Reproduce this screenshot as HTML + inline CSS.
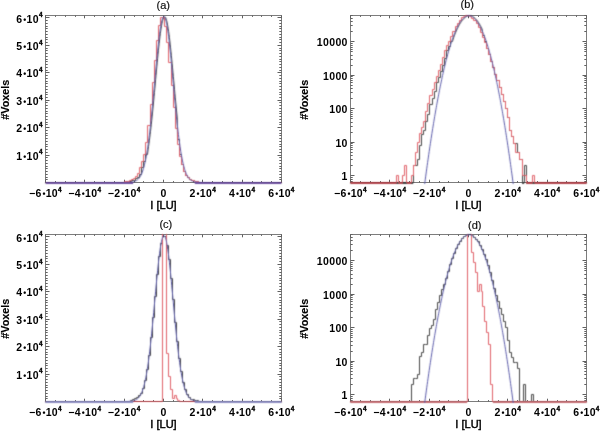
<!DOCTYPE html>
<html><head><meta charset="utf-8"><style>
html,body{margin:0;padding:0;background:#fff;}
svg{display:block;}
text{font-family:"Liberation Sans",sans-serif;fill:#000;}
.tl{font-size:10.5px;font-weight:bold;letter-spacing:0.35px;}
.bu{font-size:8.5px;letter-spacing:0.2px;}
.sup{font-size:6.4px;stroke:#000;stroke-width:0.35px;}
.tt{font-size:11px;fill:#111;stroke:#111;stroke-width:0.2px;}
.xt{font-size:11px;stroke:#000;stroke-width:0.45px;}
.yt{font-size:10.8px;font-weight:bold;stroke:#000;stroke-width:0.15px;}
</style></head><body>
<svg width="600" height="431" viewBox="0 0 600 431">
<defs><filter id="soft" x="0" y="0" width="600" height="431" filterUnits="userSpaceOnUse" color-interpolation-filters="sRGB"><feConvolveMatrix order="3" kernelMatrix="1 4 1 4 16 4 1 4 1" divisor="36" edgeMode="duplicate"/></filter></defs>
<rect width="600" height="431" fill="#fff"/>
<rect x="45.50" y="15.50" width="236.00" height="167.00" fill="none" stroke="#7c7c7c" stroke-width="1"/>
<path d="M45.50 182.50v-2.80 M45.50 15.50v2.80 M55.50 182.50v-1.40 M55.50 15.50v1.40 M65.50 182.50v-1.40 M65.50 15.50v1.40 M75.50 182.50v-1.40 M75.50 15.50v1.40 M84.50 182.50v-2.80 M84.50 15.50v2.80 M94.50 182.50v-1.40 M94.50 15.50v1.40 M104.50 182.50v-1.40 M104.50 15.50v1.40 M114.50 182.50v-1.40 M114.50 15.50v1.40 M124.50 182.50v-2.80 M124.50 15.50v2.80 M134.50 182.50v-1.40 M134.50 15.50v1.40 M143.50 182.50v-1.40 M143.50 15.50v1.40 M153.50 182.50v-1.40 M153.50 15.50v1.40 M163.50 182.50v-2.80 M163.50 15.50v2.80 M173.50 182.50v-1.40 M173.50 15.50v1.40 M183.50 182.50v-1.40 M183.50 15.50v1.40 M193.50 182.50v-1.40 M193.50 15.50v1.40 M202.50 182.50v-2.80 M202.50 15.50v2.80 M212.50 182.50v-1.40 M212.50 15.50v1.40 M222.50 182.50v-1.40 M222.50 15.50v1.40 M232.50 182.50v-1.40 M232.50 15.50v1.40 M242.50 182.50v-2.80 M242.50 15.50v2.80 M252.50 182.50v-1.40 M252.50 15.50v1.40 M261.50 182.50v-1.40 M261.50 15.50v1.40 M271.50 182.50v-1.40 M271.50 15.50v1.40 M281.50 182.50v-2.80 M281.50 15.50v2.80 M45.50 182.50h4.00 M281.50 182.50h-4.00 M45.50 179.50h2.20 M281.50 179.50h-2.20 M45.50 177.50h2.20 M281.50 177.50h-2.20 M45.50 174.50h2.20 M281.50 174.50h-2.20 M45.50 171.50h2.20 M281.50 171.50h-2.20 M45.50 168.50h2.20 M281.50 168.50h-2.20 M45.50 166.50h2.20 M281.50 166.50h-2.20 M45.50 163.50h2.20 M281.50 163.50h-2.20 M45.50 160.50h2.20 M281.50 160.50h-2.20 M45.50 157.50h2.20 M281.50 157.50h-2.20 M45.50 155.50h4.00 M281.50 155.50h-4.00 M45.50 152.50h2.20 M281.50 152.50h-2.20 M45.50 149.50h2.20 M281.50 149.50h-2.20 M45.50 146.50h2.20 M281.50 146.50h-2.20 M45.50 144.50h2.20 M281.50 144.50h-2.20 M45.50 141.50h2.20 M281.50 141.50h-2.20 M45.50 138.50h2.20 M281.50 138.50h-2.20 M45.50 135.50h2.20 M281.50 135.50h-2.20 M45.50 133.50h2.20 M281.50 133.50h-2.20 M45.50 130.50h2.20 M281.50 130.50h-2.20 M45.50 127.50h4.00 M281.50 127.50h-4.00 M45.50 124.50h2.20 M281.50 124.50h-2.20 M45.50 122.50h2.20 M281.50 122.50h-2.20 M45.50 119.50h2.20 M281.50 119.50h-2.20 M45.50 116.50h2.20 M281.50 116.50h-2.20 M45.50 113.50h2.20 M281.50 113.50h-2.20 M45.50 111.50h2.20 M281.50 111.50h-2.20 M45.50 108.50h2.20 M281.50 108.50h-2.20 M45.50 105.50h2.20 M281.50 105.50h-2.20 M45.50 102.50h2.20 M281.50 102.50h-2.20 M45.50 100.50h4.00 M281.50 100.50h-4.00 M45.50 97.50h2.20 M281.50 97.50h-2.20 M45.50 94.50h2.20 M281.50 94.50h-2.20 M45.50 92.50h2.20 M281.50 92.50h-2.20 M45.50 89.50h2.20 M281.50 89.50h-2.20 M45.50 86.50h2.20 M281.50 86.50h-2.20 M45.50 83.50h2.20 M281.50 83.50h-2.20 M45.50 81.50h2.20 M281.50 81.50h-2.20 M45.50 78.50h2.20 M281.50 78.50h-2.20 M45.50 75.50h2.20 M281.50 75.50h-2.20 M45.50 72.50h4.00 M281.50 72.50h-4.00 M45.50 70.50h2.20 M281.50 70.50h-2.20 M45.50 67.50h2.20 M281.50 67.50h-2.20 M45.50 64.50h2.20 M281.50 64.50h-2.20 M45.50 61.50h2.20 M281.50 61.50h-2.20 M45.50 59.50h2.20 M281.50 59.50h-2.20 M45.50 56.50h2.20 M281.50 56.50h-2.20 M45.50 53.50h2.20 M281.50 53.50h-2.20 M45.50 50.50h2.20 M281.50 50.50h-2.20 M45.50 48.50h2.20 M281.50 48.50h-2.20 M45.50 45.50h4.00 M281.50 45.50h-4.00 M45.50 42.50h2.20 M281.50 42.50h-2.20 M45.50 39.50h2.20 M281.50 39.50h-2.20 M45.50 37.50h2.20 M281.50 37.50h-2.20 M45.50 34.50h2.20 M281.50 34.50h-2.20 M45.50 31.50h2.20 M281.50 31.50h-2.20 M45.50 28.50h2.20 M281.50 28.50h-2.20 M45.50 26.50h2.20 M281.50 26.50h-2.20 M45.50 23.50h2.20 M281.50 23.50h-2.20 M45.50 20.50h2.20 M281.50 20.50h-2.20 M45.50 17.50h4.00 M281.50 17.50h-4.00" stroke="#606060" stroke-width="1" fill="none"/>
<rect x="350.50" y="15.50" width="236.00" height="167.00" fill="none" stroke="#7c7c7c" stroke-width="1"/>
<path d="M350.50 182.50v-2.80 M350.50 15.50v2.80 M360.50 182.50v-1.40 M360.50 15.50v1.40 M370.50 182.50v-1.40 M370.50 15.50v1.40 M380.50 182.50v-1.40 M380.50 15.50v1.40 M389.50 182.50v-2.80 M389.50 15.50v2.80 M399.50 182.50v-1.40 M399.50 15.50v1.40 M409.50 182.50v-1.40 M409.50 15.50v1.40 M419.50 182.50v-1.40 M419.50 15.50v1.40 M429.50 182.50v-2.80 M429.50 15.50v2.80 M439.50 182.50v-1.40 M439.50 15.50v1.40 M448.50 182.50v-1.40 M448.50 15.50v1.40 M458.50 182.50v-1.40 M458.50 15.50v1.40 M468.50 182.50v-2.80 M468.50 15.50v2.80 M478.50 182.50v-1.40 M478.50 15.50v1.40 M488.50 182.50v-1.40 M488.50 15.50v1.40 M498.50 182.50v-1.40 M498.50 15.50v1.40 M507.50 182.50v-2.80 M507.50 15.50v2.80 M517.50 182.50v-1.40 M517.50 15.50v1.40 M527.50 182.50v-1.40 M527.50 15.50v1.40 M537.50 182.50v-1.40 M537.50 15.50v1.40 M547.50 182.50v-2.80 M547.50 15.50v2.80 M557.50 182.50v-1.40 M557.50 15.50v1.40 M566.50 182.50v-1.40 M566.50 15.50v1.40 M576.50 182.50v-1.40 M576.50 15.50v1.40 M586.50 182.50v-2.80 M586.50 15.50v2.80 M350.50 181.50h2.20 M586.50 181.50h-2.20 M350.50 179.50h2.20 M586.50 179.50h-2.20 M350.50 177.50h2.20 M586.50 177.50h-2.20 M350.50 175.50h4.00 M586.50 175.50h-4.00 M350.50 165.50h2.20 M586.50 165.50h-2.20 M350.50 159.50h2.20 M586.50 159.50h-2.20 M350.50 155.50h2.20 M586.50 155.50h-2.20 M350.50 152.50h2.20 M586.50 152.50h-2.20 M350.50 149.50h2.20 M586.50 149.50h-2.20 M350.50 147.50h2.20 M586.50 147.50h-2.20 M350.50 145.50h2.20 M586.50 145.50h-2.20 M350.50 143.50h2.20 M586.50 143.50h-2.20 M350.50 142.50h4.00 M586.50 142.50h-4.00 M350.50 132.50h2.20 M586.50 132.50h-2.20 M350.50 126.50h2.20 M586.50 126.50h-2.20 M350.50 122.50h2.20 M586.50 122.50h-2.20 M350.50 118.50h2.20 M586.50 118.50h-2.20 M350.50 116.50h2.20 M586.50 116.50h-2.20 M350.50 114.50h2.20 M586.50 114.50h-2.20 M350.50 112.50h2.20 M586.50 112.50h-2.20 M350.50 110.50h2.20 M586.50 110.50h-2.20 M350.50 108.50h4.00 M586.50 108.50h-4.00 M350.50 98.50h2.20 M586.50 98.50h-2.20 M350.50 92.50h2.20 M586.50 92.50h-2.20 M350.50 88.50h2.20 M586.50 88.50h-2.20 M350.50 85.50h2.20 M586.50 85.50h-2.20 M350.50 82.50h2.20 M586.50 82.50h-2.20 M350.50 80.50h2.20 M586.50 80.50h-2.20 M350.50 78.50h2.20 M586.50 78.50h-2.20 M350.50 76.50h2.20 M586.50 76.50h-2.20 M350.50 75.50h4.00 M586.50 75.50h-4.00 M350.50 65.50h2.20 M586.50 65.50h-2.20 M350.50 59.50h2.20 M586.50 59.50h-2.20 M350.50 55.50h2.20 M586.50 55.50h-2.20 M350.50 51.50h2.20 M586.50 51.50h-2.20 M350.50 49.50h2.20 M586.50 49.50h-2.20 M350.50 47.50h2.20 M586.50 47.50h-2.20 M350.50 45.50h2.20 M586.50 45.50h-2.20 M350.50 43.50h2.20 M586.50 43.50h-2.20 M350.50 41.50h4.00 M586.50 41.50h-4.00 M350.50 31.50h2.20 M586.50 31.50h-2.20 M350.50 25.50h2.20 M586.50 25.50h-2.20 M350.50 21.50h2.20 M586.50 21.50h-2.20 M350.50 18.50h2.20 M586.50 18.50h-2.20 M350.50 15.50h2.20 M586.50 15.50h-2.20" stroke="#606060" stroke-width="1" fill="none"/>
<rect x="45.50" y="234.50" width="236.00" height="167.00" fill="none" stroke="#7c7c7c" stroke-width="1"/>
<path d="M45.50 401.50v-2.80 M45.50 234.50v2.80 M55.50 401.50v-1.40 M55.50 234.50v1.40 M65.50 401.50v-1.40 M65.50 234.50v1.40 M75.50 401.50v-1.40 M75.50 234.50v1.40 M84.50 401.50v-2.80 M84.50 234.50v2.80 M94.50 401.50v-1.40 M94.50 234.50v1.40 M104.50 401.50v-1.40 M104.50 234.50v1.40 M114.50 401.50v-1.40 M114.50 234.50v1.40 M124.50 401.50v-2.80 M124.50 234.50v2.80 M134.50 401.50v-1.40 M134.50 234.50v1.40 M143.50 401.50v-1.40 M143.50 234.50v1.40 M153.50 401.50v-1.40 M153.50 234.50v1.40 M163.50 401.50v-2.80 M163.50 234.50v2.80 M173.50 401.50v-1.40 M173.50 234.50v1.40 M183.50 401.50v-1.40 M183.50 234.50v1.40 M193.50 401.50v-1.40 M193.50 234.50v1.40 M202.50 401.50v-2.80 M202.50 234.50v2.80 M212.50 401.50v-1.40 M212.50 234.50v1.40 M222.50 401.50v-1.40 M222.50 234.50v1.40 M232.50 401.50v-1.40 M232.50 234.50v1.40 M242.50 401.50v-2.80 M242.50 234.50v2.80 M252.50 401.50v-1.40 M252.50 234.50v1.40 M261.50 401.50v-1.40 M261.50 234.50v1.40 M271.50 401.50v-1.40 M271.50 234.50v1.40 M281.50 401.50v-2.80 M281.50 234.50v2.80 M45.50 401.50h4.00 M281.50 401.50h-4.00 M45.50 398.50h2.20 M281.50 398.50h-2.20 M45.50 396.50h2.20 M281.50 396.50h-2.20 M45.50 393.50h2.20 M281.50 393.50h-2.20 M45.50 390.50h2.20 M281.50 390.50h-2.20 M45.50 387.50h2.20 M281.50 387.50h-2.20 M45.50 385.50h2.20 M281.50 385.50h-2.20 M45.50 382.50h2.20 M281.50 382.50h-2.20 M45.50 379.50h2.20 M281.50 379.50h-2.20 M45.50 376.50h2.20 M281.50 376.50h-2.20 M45.50 374.50h4.00 M281.50 374.50h-4.00 M45.50 371.50h2.20 M281.50 371.50h-2.20 M45.50 368.50h2.20 M281.50 368.50h-2.20 M45.50 365.50h2.20 M281.50 365.50h-2.20 M45.50 363.50h2.20 M281.50 363.50h-2.20 M45.50 360.50h2.20 M281.50 360.50h-2.20 M45.50 357.50h2.20 M281.50 357.50h-2.20 M45.50 354.50h2.20 M281.50 354.50h-2.20 M45.50 352.50h2.20 M281.50 352.50h-2.20 M45.50 349.50h2.20 M281.50 349.50h-2.20 M45.50 346.50h4.00 M281.50 346.50h-4.00 M45.50 343.50h2.20 M281.50 343.50h-2.20 M45.50 341.50h2.20 M281.50 341.50h-2.20 M45.50 338.50h2.20 M281.50 338.50h-2.20 M45.50 335.50h2.20 M281.50 335.50h-2.20 M45.50 332.50h2.20 M281.50 332.50h-2.20 M45.50 330.50h2.20 M281.50 330.50h-2.20 M45.50 327.50h2.20 M281.50 327.50h-2.20 M45.50 324.50h2.20 M281.50 324.50h-2.20 M45.50 321.50h2.20 M281.50 321.50h-2.20 M45.50 319.50h4.00 M281.50 319.50h-4.00 M45.50 316.50h2.20 M281.50 316.50h-2.20 M45.50 313.50h2.20 M281.50 313.50h-2.20 M45.50 311.50h2.20 M281.50 311.50h-2.20 M45.50 308.50h2.20 M281.50 308.50h-2.20 M45.50 305.50h2.20 M281.50 305.50h-2.20 M45.50 302.50h2.20 M281.50 302.50h-2.20 M45.50 300.50h2.20 M281.50 300.50h-2.20 M45.50 297.50h2.20 M281.50 297.50h-2.20 M45.50 294.50h2.20 M281.50 294.50h-2.20 M45.50 291.50h4.00 M281.50 291.50h-4.00 M45.50 289.50h2.20 M281.50 289.50h-2.20 M45.50 286.50h2.20 M281.50 286.50h-2.20 M45.50 283.50h2.20 M281.50 283.50h-2.20 M45.50 280.50h2.20 M281.50 280.50h-2.20 M45.50 278.50h2.20 M281.50 278.50h-2.20 M45.50 275.50h2.20 M281.50 275.50h-2.20 M45.50 272.50h2.20 M281.50 272.50h-2.20 M45.50 269.50h2.20 M281.50 269.50h-2.20 M45.50 267.50h2.20 M281.50 267.50h-2.20 M45.50 264.50h4.00 M281.50 264.50h-4.00 M45.50 261.50h2.20 M281.50 261.50h-2.20 M45.50 258.50h2.20 M281.50 258.50h-2.20 M45.50 256.50h2.20 M281.50 256.50h-2.20 M45.50 253.50h2.20 M281.50 253.50h-2.20 M45.50 250.50h2.20 M281.50 250.50h-2.20 M45.50 247.50h2.20 M281.50 247.50h-2.20 M45.50 245.50h2.20 M281.50 245.50h-2.20 M45.50 242.50h2.20 M281.50 242.50h-2.20 M45.50 239.50h2.20 M281.50 239.50h-2.20 M45.50 236.50h4.00 M281.50 236.50h-4.00" stroke="#606060" stroke-width="1" fill="none"/>
<rect x="350.50" y="234.50" width="236.00" height="167.00" fill="none" stroke="#7c7c7c" stroke-width="1"/>
<path d="M350.50 401.50v-2.80 M350.50 234.50v2.80 M360.50 401.50v-1.40 M360.50 234.50v1.40 M370.50 401.50v-1.40 M370.50 234.50v1.40 M380.50 401.50v-1.40 M380.50 234.50v1.40 M389.50 401.50v-2.80 M389.50 234.50v2.80 M399.50 401.50v-1.40 M399.50 234.50v1.40 M409.50 401.50v-1.40 M409.50 234.50v1.40 M419.50 401.50v-1.40 M419.50 234.50v1.40 M429.50 401.50v-2.80 M429.50 234.50v2.80 M439.50 401.50v-1.40 M439.50 234.50v1.40 M448.50 401.50v-1.40 M448.50 234.50v1.40 M458.50 401.50v-1.40 M458.50 234.50v1.40 M468.50 401.50v-2.80 M468.50 234.50v2.80 M478.50 401.50v-1.40 M478.50 234.50v1.40 M488.50 401.50v-1.40 M488.50 234.50v1.40 M498.50 401.50v-1.40 M498.50 234.50v1.40 M507.50 401.50v-2.80 M507.50 234.50v2.80 M517.50 401.50v-1.40 M517.50 234.50v1.40 M527.50 401.50v-1.40 M527.50 234.50v1.40 M537.50 401.50v-1.40 M537.50 234.50v1.40 M547.50 401.50v-2.80 M547.50 234.50v2.80 M557.50 401.50v-1.40 M557.50 234.50v1.40 M566.50 401.50v-1.40 M566.50 234.50v1.40 M576.50 401.50v-1.40 M576.50 234.50v1.40 M586.50 401.50v-2.80 M586.50 234.50v2.80 M350.50 400.50h2.20 M586.50 400.50h-2.20 M350.50 398.50h2.20 M586.50 398.50h-2.20 M350.50 396.50h2.20 M586.50 396.50h-2.20 M350.50 394.50h4.00 M586.50 394.50h-4.00 M350.50 384.50h2.20 M586.50 384.50h-2.20 M350.50 378.50h2.20 M586.50 378.50h-2.20 M350.50 374.50h2.20 M586.50 374.50h-2.20 M350.50 371.50h2.20 M586.50 371.50h-2.20 M350.50 368.50h2.20 M586.50 368.50h-2.20 M350.50 366.50h2.20 M586.50 366.50h-2.20 M350.50 364.50h2.20 M586.50 364.50h-2.20 M350.50 362.50h2.20 M586.50 362.50h-2.20 M350.50 361.50h4.00 M586.50 361.50h-4.00 M350.50 351.50h2.20 M586.50 351.50h-2.20 M350.50 345.50h2.20 M586.50 345.50h-2.20 M350.50 341.50h2.20 M586.50 341.50h-2.20 M350.50 337.50h2.20 M586.50 337.50h-2.20 M350.50 335.50h2.20 M586.50 335.50h-2.20 M350.50 333.50h2.20 M586.50 333.50h-2.20 M350.50 331.50h2.20 M586.50 331.50h-2.20 M350.50 329.50h2.20 M586.50 329.50h-2.20 M350.50 327.50h4.00 M586.50 327.50h-4.00 M350.50 317.50h2.20 M586.50 317.50h-2.20 M350.50 311.50h2.20 M586.50 311.50h-2.20 M350.50 307.50h2.20 M586.50 307.50h-2.20 M350.50 304.50h2.20 M586.50 304.50h-2.20 M350.50 301.50h2.20 M586.50 301.50h-2.20 M350.50 299.50h2.20 M586.50 299.50h-2.20 M350.50 297.50h2.20 M586.50 297.50h-2.20 M350.50 295.50h2.20 M586.50 295.50h-2.20 M350.50 294.50h4.00 M586.50 294.50h-4.00 M350.50 284.50h2.20 M586.50 284.50h-2.20 M350.50 278.50h2.20 M586.50 278.50h-2.20 M350.50 274.50h2.20 M586.50 274.50h-2.20 M350.50 270.50h2.20 M586.50 270.50h-2.20 M350.50 268.50h2.20 M586.50 268.50h-2.20 M350.50 266.50h2.20 M586.50 266.50h-2.20 M350.50 264.50h2.20 M586.50 264.50h-2.20 M350.50 262.50h2.20 M586.50 262.50h-2.20 M350.50 260.50h4.00 M586.50 260.50h-4.00 M350.50 250.50h2.20 M586.50 250.50h-2.20 M350.50 244.50h2.20 M586.50 244.50h-2.20 M350.50 240.50h2.20 M586.50 240.50h-2.20 M350.50 237.50h2.20 M586.50 237.50h-2.20 M350.50 234.50h2.20 M586.50 234.50h-2.20" stroke="#606060" stroke-width="1" fill="none"/>
<g filter="url(#soft)">
<clipPath id="clipa"><rect x="45.50" y="15.50" width="236.00" height="168.50"/></clipPath>
<g clip-path="url(#clipa)" fill="none" stroke-width="1">
<path d="M41.50 182.50 L43.50 182.50 L43.50 182.50 L45.50 182.50 L45.50 182.50 L47.50 182.50 L47.50 182.50 L49.50 182.50 L49.50 182.50 L51.50 182.50 L51.50 182.50 L53.50 182.50 L53.50 182.50 L55.50 182.50 L55.50 182.50 L57.50 182.50 L57.50 182.50 L60.50 182.50 L60.50 182.50 L62.50 182.50 L62.50 182.50 L64.50 182.50 L64.50 182.50 L66.50 182.50 L66.50 182.50 L68.50 182.50 L68.50 182.50 L70.50 182.50 L70.50 182.50 L72.50 182.50 L72.50 182.50 L74.50 182.50 L74.50 182.50 L76.50 182.50 L76.50 182.50 L78.50 182.50 L78.50 182.50 L80.50 182.50 L80.50 182.50 L83.50 182.50 L83.50 182.50 L85.50 182.50 L85.50 182.50 L87.50 182.50 L87.50 182.50 L89.50 182.50 L89.50 182.50 L91.50 182.50 L91.50 182.50 L93.50 182.50 L93.50 182.50 L95.50 182.50 L95.50 182.50 L97.50 182.50 L97.50 182.50 L99.50 182.50 L99.50 182.50 L101.50 182.50 L101.50 182.50 L103.50 182.50 L103.50 182.50 L106.50 182.50 L106.50 182.50 L108.50 182.50 L108.50 182.50 L110.50 182.50 L110.50 182.50 L112.50 182.50 L112.50 182.50 L114.50 182.50 L114.50 182.50 L116.50 182.50 L116.50 182.50 L118.50 182.50 L118.50 182.50 L120.50 182.50 L120.50 182.50 L122.50 182.50 L122.50 182.50 L124.50 182.50 L124.50 182.50 L127.50 182.50 L127.50 181.50 L129.50 181.50 L129.50 181.50 L131.50 181.50 L131.50 180.50 L133.50 180.50 L133.50 180.50 L135.50 180.50 L135.50 178.50 L137.50 178.50 L137.50 177.50 L139.50 177.50 L139.50 174.50 L141.50 174.50 L141.50 167.50 L143.50 167.50 L143.50 161.50 L145.50 161.50 L145.50 154.50 L147.50 154.50 L148.17 149.05 L148.56 146.42 L148.96 143.66 L149.35 140.77 L149.74 137.74 L150.14 134.57 L150.53 131.28 L150.92 127.86 L151.32 124.32 L151.71 120.67 L152.10 116.90 L152.50 113.03 L152.89 109.07 L153.28 105.02 L153.68 100.90 L154.07 96.72 L154.46 92.49 L154.86 88.22 L155.25 83.92 L155.64 79.62 L156.04 75.33 L156.43 71.07 L156.82 66.84 L157.22 62.68 L157.61 58.59 L158.00 54.59 L158.40 50.71 L158.79 46.96 L159.18 43.35 L159.58 39.91 L159.97 36.65 L160.36 33.59 L160.76 30.74 L161.15 28.12 L161.54 25.74 L161.94 23.62 L162.33 21.76 L162.72 20.17 L163.12 18.87 L163.51 17.86 L163.90 17.14 L164.30 16.72 L164.69 16.61 L165.08 16.80 L165.48 17.29 L165.87 18.08 L166.26 19.17 L166.66 20.54 L167.05 22.20 L167.44 24.12 L167.84 26.31 L168.23 28.75 L168.62 31.43 L169.02 34.34 L169.41 37.45 L169.80 40.76 L170.20 44.24 L170.59 47.88 L170.98 51.67 L171.38 55.58 L171.77 59.60 L172.16 63.71 L172.56 67.89 L172.95 72.13 L173.34 76.41 L173.74 80.70 L174.13 85.00 L174.52 89.29 L174.92 93.55 L175.31 97.77 L175.70 101.94 L176.10 106.04 L176.49 110.07 L176.88 114.01 L177.28 117.85 L177.50 139.50 L179.50 139.50 L179.50 154.50 L181.50 154.50 L181.50 164.50 L183.50 164.50 L183.50 171.50 L185.50 171.50 L185.50 175.50 L187.50 175.50 L187.50 177.50 L189.50 177.50 L189.50 179.50 L191.50 179.50 L191.50 180.50 L194.50 180.50 L194.50 181.50 L196.50 181.50 L196.50 181.50 L198.50 181.50 L198.50 182.50 L200.50 182.50 L200.50 182.50 L202.50 182.50 L202.50 182.50 L204.50 182.50 L204.50 182.50 L206.50 182.50 L206.50 182.50 L208.50 182.50 L208.50 182.50 L210.50 182.50 L210.50 182.50 L212.50 182.50 L212.50 182.50 L214.50 182.50 L214.50 182.50 L217.50 182.50 L217.50 182.50 L219.50 182.50 L219.50 182.50 L221.50 182.50 L221.50 182.50 L223.50 182.50 L223.50 182.50 L225.50 182.50 L225.50 182.50 L227.50 182.50 L227.50 182.50 L229.50 182.50 L229.50 182.50 L231.50 182.50 L231.50 182.50 L233.50 182.50 L233.50 182.50 L235.50 182.50 L235.50 182.50 L238.50 182.50 L238.50 182.50 L240.50 182.50 L240.50 182.50 L242.50 182.50 L242.50 182.50 L244.50 182.50 L244.50 182.50 L246.50 182.50 L246.50 182.50 L248.50 182.50 L248.50 182.50 L250.50 182.50 L250.50 182.50 L252.50 182.50 L252.50 182.50 L254.50 182.50 L254.50 182.50 L256.50 182.50 L256.50 182.50 L258.50 182.50 L258.50 182.50 L261.50 182.50 L261.50 182.50 L263.50 182.50 L263.50 182.50 L265.50 182.50 L265.50 182.50 L267.50 182.50 L267.50 182.50 L269.50 182.50 L269.50 182.50 L271.50 182.50 L271.50 182.50 L273.50 182.50 L273.50 182.50 L275.50 182.50 L275.50 182.50 L277.50 182.50 L277.50 182.50 L279.50 182.50 L279.50 182.50 L282.50 182.50 L282.50 182.50 L284.50 182.50 L284.50 182.50 L286.50 182.50" stroke="#444444"/>
<path d="M45.50 183.00H129.12 M198.24 183.00H281.50" stroke="#444444" stroke-width="2"/>
<path d="M41.50 182.50 L43.50 182.50 L43.50 182.50 L45.50 182.50 L45.50 182.50 L47.50 182.50 L47.50 182.50 L49.50 182.50 L49.50 182.50 L51.50 182.50 L51.50 182.50 L53.50 182.50 L53.50 182.50 L55.50 182.50 L55.50 182.50 L57.50 182.50 L57.50 182.50 L60.50 182.50 L60.50 182.50 L62.50 182.50 L62.50 182.50 L64.50 182.50 L64.50 182.50 L66.50 182.50 L66.50 182.50 L68.50 182.50 L68.50 182.50 L70.50 182.50 L70.50 182.50 L72.50 182.50 L72.50 182.50 L74.50 182.50 L74.50 182.50 L76.50 182.50 L76.50 182.50 L78.50 182.50 L78.50 182.50 L80.50 182.50 L80.50 182.50 L83.50 182.50 L83.50 182.50 L85.50 182.50 L85.50 182.50 L87.50 182.50 L87.50 182.50 L89.50 182.50 L89.50 182.50 L91.50 182.50 L91.50 182.50 L93.50 182.50 L93.50 182.50 L95.50 182.50 L95.50 182.50 L97.50 182.50 L97.50 182.50 L99.50 182.50 L99.50 182.50 L101.50 182.50 L101.50 182.50 L103.50 182.50 L103.50 182.50 L106.50 182.50 L106.50 182.50 L108.50 182.50 L108.50 182.50 L110.50 182.50 L110.50 182.50 L112.50 182.50 L112.50 182.50 L114.50 182.50 L114.50 182.50 L116.50 182.50 L116.50 182.50 L118.50 182.50 L118.50 182.50 L120.50 182.50 L120.50 182.50 L122.50 182.50 L122.50 182.50 L124.50 182.50 L124.50 181.50 L127.50 181.50 L127.50 181.50 L129.50 181.50 L129.50 180.50 L131.50 180.50 L131.50 179.50 L133.50 179.50 L133.50 178.50 L135.50 178.50 L135.50 176.50 L137.50 176.50 L137.50 173.50 L139.50 173.50 L139.50 167.50 L141.50 167.50 L141.50 161.50 L143.50 161.50 L143.50 154.50 L145.50 154.50 L145.50 142.50 L147.50 142.50 L147.50 125.50 L150.50 125.50 L150.50 104.50 L152.50 104.50 L152.50 82.50 L154.50 82.50 L154.50 60.50 L156.50 60.50 L156.50 40.50 L158.50 40.50 L158.50 25.50 L160.50 25.50 L160.50 17.50 L162.50 17.50 L162.50 17.50 L164.50 17.50 L164.50 26.50 L166.50 26.50 L166.50 42.50 L168.50 42.50 L168.50 62.50 L171.50 62.50 L171.50 85.50 L173.50 85.50 L173.50 107.50 L175.50 107.50 L175.50 128.50 L177.50 128.50 L177.50 144.50 L179.50 144.50 L179.50 156.50 L181.50 156.50 L181.50 164.50 L183.50 164.50 L183.50 171.50 L185.50 171.50 L185.50 175.50 L187.50 175.50 L187.50 177.50 L189.50 177.50 L189.50 179.50 L191.50 179.50 L191.50 180.50 L194.50 180.50 L194.50 181.50 L196.50 181.50 L196.50 181.50 L198.50 181.50 L198.50 182.50 L200.50 182.50 L200.50 182.50 L202.50 182.50 L202.50 182.50 L204.50 182.50 L204.50 182.50 L206.50 182.50 L206.50 182.50 L208.50 182.50 L208.50 182.50 L210.50 182.50 L210.50 182.50 L212.50 182.50 L212.50 182.50 L214.50 182.50 L214.50 182.50 L217.50 182.50 L217.50 182.50 L219.50 182.50 L219.50 182.50 L221.50 182.50 L221.50 182.50 L223.50 182.50 L223.50 182.50 L225.50 182.50 L225.50 182.50 L227.50 182.50 L227.50 182.50 L229.50 182.50 L229.50 182.50 L231.50 182.50 L231.50 182.50 L233.50 182.50 L233.50 182.50 L235.50 182.50 L235.50 182.50 L238.50 182.50 L238.50 182.50 L240.50 182.50 L240.50 182.50 L242.50 182.50 L242.50 182.50 L244.50 182.50 L244.50 182.50 L246.50 182.50 L246.50 182.50 L248.50 182.50 L248.50 182.50 L250.50 182.50 L250.50 182.50 L252.50 182.50 L252.50 182.50 L254.50 182.50 L254.50 182.50 L256.50 182.50 L256.50 182.50 L258.50 182.50 L258.50 182.50 L261.50 182.50 L261.50 182.50 L263.50 182.50 L263.50 182.50 L265.50 182.50 L265.50 182.50 L267.50 182.50 L267.50 182.50 L269.50 182.50 L269.50 182.50 L271.50 182.50 L271.50 182.50 L273.50 182.50 L273.50 182.50 L275.50 182.50 L275.50 182.50 L277.50 182.50 L277.50 182.50 L279.50 182.50 L279.50 182.50 L282.50 182.50 L282.50 182.50 L284.50 182.50 L284.50 182.50 L286.50 182.50" stroke="#e06068"/>
<path d="M45.50 182.50 L45.89 182.50 L46.29 182.50 L46.68 182.50 L47.07 182.50 L47.47 182.50 L47.86 182.50 L48.25 182.50 L48.65 182.50 L49.04 182.50 L49.43 182.50 L49.83 182.50 L50.22 182.50 L50.61 182.50 L51.01 182.50 L51.40 182.50 L51.79 182.50 L52.19 182.50 L52.58 182.50 L52.97 182.50 L53.37 182.50 L53.76 182.50 L54.15 182.50 L54.55 182.50 L54.94 182.50 L55.33 182.50 L55.73 182.50 L56.12 182.50 L56.51 182.50 L56.91 182.50 L57.30 182.50 L57.69 182.50 L58.09 182.50 L58.48 182.50 L58.87 182.50 L59.27 182.50 L59.66 182.50 L60.05 182.50 L60.45 182.50 L60.84 182.50 L61.23 182.50 L61.63 182.50 L62.02 182.50 L62.41 182.50 L62.81 182.50 L63.20 182.50 L63.59 182.50 L63.99 182.50 L64.38 182.50 L64.77 182.50 L65.17 182.50 L65.56 182.50 L65.95 182.50 L66.35 182.50 L66.74 182.50 L67.13 182.50 L67.53 182.50 L67.92 182.50 L68.31 182.50 L68.71 182.50 L69.10 182.50 L69.49 182.50 L69.89 182.50 L70.28 182.50 L70.67 182.50 L71.07 182.50 L71.46 182.50 L71.85 182.50 L72.25 182.50 L72.64 182.50 L73.03 182.50 L73.43 182.50 L73.82 182.50 L74.21 182.50 L74.61 182.50 L75.00 182.50 L75.39 182.50 L75.79 182.50 L76.18 182.50 L76.57 182.50 L76.97 182.50 L77.36 182.50 L77.75 182.50 L78.15 182.50 L78.54 182.50 L78.93 182.50 L79.33 182.50 L79.72 182.50 L80.11 182.50 L80.51 182.50 L80.90 182.50 L81.29 182.50 L81.69 182.50 L82.08 182.50 L82.47 182.50 L82.87 182.50 L83.26 182.50 L83.65 182.50 L84.05 182.50 L84.44 182.50 L84.83 182.50 L85.23 182.50 L85.62 182.50 L86.01 182.50 L86.41 182.50 L86.80 182.50 L87.19 182.50 L87.59 182.50 L87.98 182.50 L88.37 182.50 L88.77 182.50 L89.16 182.50 L89.55 182.50 L89.95 182.50 L90.34 182.50 L90.73 182.50 L91.13 182.50 L91.52 182.50 L91.91 182.50 L92.31 182.50 L92.70 182.50 L93.09 182.50 L93.49 182.50 L93.88 182.50 L94.27 182.50 L94.67 182.50 L95.06 182.50 L95.45 182.50 L95.85 182.50 L96.24 182.50 L96.63 182.50 L97.03 182.50 L97.42 182.50 L97.81 182.50 L98.21 182.50 L98.60 182.50 L98.99 182.50 L99.39 182.50 L99.78 182.50 L100.17 182.50 L100.57 182.50 L100.96 182.50 L101.35 182.50 L101.75 182.50 L102.14 182.50 L102.53 182.50 L102.93 182.50 L103.32 182.50 L103.71 182.50 L104.11 182.50 L104.50 182.50 L104.89 182.50 L105.29 182.50 L105.68 182.50 L106.07 182.50 L106.47 182.50 L106.86 182.50 L107.25 182.50 L107.65 182.50 L108.04 182.50 L108.43 182.50 L108.83 182.50 L109.22 182.50 L109.61 182.50 L110.01 182.50 L110.40 182.50 L110.79 182.50 L111.19 182.50 L111.58 182.50 L111.97 182.50 L112.37 182.50 L112.76 182.50 L113.15 182.50 L113.55 182.50 L113.94 182.50 L114.33 182.50 L114.73 182.50 L115.12 182.50 L115.51 182.50 L115.91 182.50 L116.30 182.50 L116.69 182.50 L117.09 182.50 L117.48 182.50 L117.87 182.50 L118.27 182.50 L118.66 182.50 L119.05 182.50 L119.45 182.50 L119.84 182.50 L120.23 182.50 L120.63 182.50 L121.02 182.50 L121.41 182.50 L121.81 182.50 L122.20 182.49 L122.59 182.49 L122.99 182.49 L123.38 182.49 L123.77 182.49 L124.17 182.49 L124.56 182.48 L124.95 182.48 L125.35 182.47 L125.74 182.47 L126.13 182.46 L126.53 182.46 L126.92 182.45 L127.31 182.44 L127.71 182.43 L128.10 182.42 L128.49 182.40 L128.89 182.38 L129.28 182.36 L129.67 182.34 L130.07 182.31 L130.46 182.28 L130.85 182.24 L131.25 182.20 L131.64 182.15 L132.03 182.09 L132.43 182.03 L132.82 181.96 L133.21 181.87 L133.61 181.78 L134.00 181.67 L134.39 181.54 L134.79 181.41 L135.18 181.25 L135.57 181.07 L135.97 180.87 L136.36 180.65 L136.75 180.39 L137.15 180.11 L137.54 179.80 L137.93 179.45 L138.33 179.06 L138.72 178.63 L139.11 178.15 L139.51 177.62 L139.90 177.04 L140.29 176.40 L140.69 175.70 L141.08 174.93 L141.47 174.09 L141.87 173.18 L142.26 172.18 L142.65 171.10 L143.05 169.92 L143.44 168.65 L143.83 167.29 L144.23 165.81 L144.62 164.23 L145.01 162.53 L145.41 160.71 L145.80 158.78 L146.19 156.71 L146.59 154.52 L146.98 152.20 L147.37 149.75 L147.77 147.16 L148.16 144.43 L148.55 141.58 L148.95 138.58 L149.34 135.46 L149.73 132.20 L150.13 128.82 L150.52 125.31 L150.91 121.68 L151.31 117.95 L151.70 114.11 L152.09 110.17 L152.49 106.14 L152.88 102.04 L153.27 97.87 L153.67 93.65 L154.06 89.39 L154.45 85.11 L154.85 80.81 L155.24 76.51 L155.63 72.24 L156.03 68.00 L156.42 63.82 L156.81 59.70 L157.21 55.68 L157.60 51.77 L157.99 47.98 L158.39 44.33 L158.78 40.84 L159.17 37.53 L159.57 34.41 L159.96 31.50 L160.35 28.82 L160.75 26.37 L161.14 24.18 L161.53 22.24 L161.93 20.58 L162.32 19.20 L162.71 18.11 L163.11 17.31 L163.50 16.81 L163.89 16.61 L164.29 16.72 L164.68 17.13 L165.07 17.83 L165.47 18.84 L165.86 20.13 L166.25 21.71 L166.65 23.57 L167.04 25.69 L167.43 28.06 L167.83 30.67 L168.22 33.52 L168.61 36.57 L169.01 39.83 L169.40 43.26 L169.79 46.87 L170.19 50.62 L170.58 54.49 L170.97 58.49 L171.37 62.57 L171.76 66.74 L172.15 70.96 L172.55 75.23 L172.94 79.52 L173.33 83.82 L173.73 88.11 L174.12 92.38 L174.51 96.61 L174.91 100.80 L175.30 104.92 L175.69 108.97 L176.09 112.93 L176.48 116.81 L176.87 120.57 L177.27 124.23 L177.66 127.78 L178.05 131.20 L178.45 134.49 L178.84 137.66 L179.23 140.69 L179.63 143.59 L180.02 146.35 L180.41 148.98 L180.81 151.48 L181.20 153.84 L181.59 156.07 L181.99 158.17 L182.38 160.14 L182.77 162.00 L183.17 163.73 L183.56 165.35 L183.95 166.85 L184.35 168.25 L184.74 169.55 L185.13 170.76 L185.53 171.87 L185.92 172.89 L186.31 173.83 L186.71 174.69 L187.10 175.48 L187.49 176.20 L187.89 176.86 L188.28 177.46 L188.67 178.00 L189.07 178.49 L189.46 178.94 L189.85 179.34 L190.25 179.70 L190.64 180.02 L191.03 180.31 L191.43 180.57 L191.82 180.81 L192.21 181.01 L192.61 181.20 L193.00 181.36 L193.39 181.50 L193.79 181.63 L194.18 181.75 L194.57 181.84 L194.97 181.93 L195.36 182.01 L195.75 182.08 L196.15 182.13 L196.54 182.19 L196.93 182.23 L197.33 182.27 L197.72 182.30 L198.11 182.33 L198.51 182.36 L198.90 182.38 L199.29 182.40 L199.69 182.41 L200.08 182.43 L200.47 182.44 L200.87 182.45 L201.26 182.46 L201.65 182.46 L202.05 182.47 L202.44 182.47 L202.83 182.48 L203.23 182.48 L203.62 182.48 L204.01 182.49 L204.41 182.49 L204.80 182.49 L205.19 182.49 L205.59 182.49 L205.98 182.50 L206.37 182.50 L206.77 182.50 L207.16 182.50 L207.55 182.50 L207.95 182.50 L208.34 182.50 L208.73 182.50 L209.13 182.50 L209.52 182.50 L209.91 182.50 L210.31 182.50 L210.70 182.50 L211.09 182.50 L211.49 182.50 L211.88 182.50 L212.27 182.50 L212.67 182.50 L213.06 182.50 L213.45 182.50 L213.85 182.50 L214.24 182.50 L214.63 182.50 L215.03 182.50 L215.42 182.50 L215.81 182.50 L216.21 182.50 L216.60 182.50 L216.99 182.50 L217.39 182.50 L217.78 182.50 L218.17 182.50 L218.57 182.50 L218.96 182.50 L219.35 182.50 L219.75 182.50 L220.14 182.50 L220.53 182.50 L220.93 182.50 L221.32 182.50 L221.71 182.50 L222.11 182.50 L222.50 182.50 L222.89 182.50 L223.29 182.50 L223.68 182.50 L224.07 182.50 L224.47 182.50 L224.86 182.50 L225.25 182.50 L225.65 182.50 L226.04 182.50 L226.43 182.50 L226.83 182.50 L227.22 182.50 L227.61 182.50 L228.01 182.50 L228.40 182.50 L228.79 182.50 L229.19 182.50 L229.58 182.50 L229.97 182.50 L230.37 182.50 L230.76 182.50 L231.15 182.50 L231.55 182.50 L231.94 182.50 L232.33 182.50 L232.73 182.50 L233.12 182.50 L233.51 182.50 L233.91 182.50 L234.30 182.50 L234.69 182.50 L235.09 182.50 L235.48 182.50 L235.87 182.50 L236.27 182.50 L236.66 182.50 L237.05 182.50 L237.45 182.50 L237.84 182.50 L238.23 182.50 L238.63 182.50 L239.02 182.50 L239.41 182.50 L239.81 182.50 L240.20 182.50 L240.59 182.50 L240.99 182.50 L241.38 182.50 L241.77 182.50 L242.17 182.50 L242.56 182.50 L242.95 182.50 L243.35 182.50 L243.74 182.50 L244.13 182.50 L244.53 182.50 L244.92 182.50 L245.31 182.50 L245.71 182.50 L246.10 182.50 L246.49 182.50 L246.89 182.50 L247.28 182.50 L247.67 182.50 L248.07 182.50 L248.46 182.50 L248.85 182.50 L249.25 182.50 L249.64 182.50 L250.03 182.50 L250.43 182.50 L250.82 182.50 L251.21 182.50 L251.61 182.50 L252.00 182.50 L252.39 182.50 L252.79 182.50 L253.18 182.50 L253.57 182.50 L253.97 182.50 L254.36 182.50 L254.75 182.50 L255.15 182.50 L255.54 182.50 L255.93 182.50 L256.33 182.50 L256.72 182.50 L257.11 182.50 L257.51 182.50 L257.90 182.50 L258.29 182.50 L258.69 182.50 L259.08 182.50 L259.47 182.50 L259.87 182.50 L260.26 182.50 L260.65 182.50 L261.05 182.50 L261.44 182.50 L261.83 182.50 L262.23 182.50 L262.62 182.50 L263.01 182.50 L263.41 182.50 L263.80 182.50 L264.19 182.50 L264.59 182.50 L264.98 182.50 L265.37 182.50 L265.77 182.50 L266.16 182.50 L266.55 182.50 L266.95 182.50 L267.34 182.50 L267.73 182.50 L268.13 182.50 L268.52 182.50 L268.91 182.50 L269.31 182.50 L269.70 182.50 L270.09 182.50 L270.49 182.50 L270.88 182.50 L271.27 182.50 L271.67 182.50 L272.06 182.50 L272.45 182.50 L272.85 182.50 L273.24 182.50 L273.63 182.50 L274.03 182.50 L274.42 182.50 L274.81 182.50 L275.21 182.50 L275.60 182.50 L275.99 182.50 L276.39 182.50 L276.78 182.50 L277.17 182.50 L277.57 182.50 L277.96 182.50 L278.35 182.50 L278.75 182.50 L279.14 182.50 L279.53 182.50 L279.93 182.50 L280.32 182.50 L280.71 182.50 L281.11 182.50 L281.50 182.50" stroke="#5858a8"/>
<path d="M45.50 183.00H133.09 M194.82 183.00H281.50" stroke="#6a4c9c" stroke-width="2"/>
</g>
<clipPath id="clipb"><rect x="350.50" y="15.50" width="236.00" height="168.50"/></clipPath>
<g clip-path="url(#clipb)" fill="none" stroke-width="1">
<path d="M346.50 182.50 L348.50 182.50 L348.50 182.50 L350.50 182.50 L350.50 182.50 L352.50 182.50 L352.50 182.50 L354.50 182.50 L354.50 182.50 L356.50 182.50 L356.50 182.50 L358.50 182.50 L358.50 182.50 L360.50 182.50 L360.50 182.50 L362.50 182.50 L362.50 182.50 L365.50 182.50 L365.50 182.50 L367.50 182.50 L367.50 182.50 L369.50 182.50 L369.50 182.50 L371.50 182.50 L371.50 182.50 L373.50 182.50 L373.50 182.50 L375.50 182.50 L375.50 182.50 L377.50 182.50 L377.50 182.50 L379.50 182.50 L379.50 182.50 L381.50 182.50 L381.50 182.50 L383.50 182.50 L383.50 182.50 L385.50 182.50 L385.50 182.50 L388.50 182.50 L388.50 182.50 L390.50 182.50 L390.50 182.50 L392.50 182.50 L392.50 182.50 L394.50 182.50 L394.50 182.50 L396.50 182.50 L396.50 182.50 L398.50 182.50 L398.50 182.50 L400.50 182.50 L400.50 182.50 L402.50 182.50 L402.50 182.50 L404.50 182.50 L404.50 182.50 L406.50 182.50 L406.50 182.50 L408.50 182.50 L408.50 182.50 L411.50 182.50 L411.50 182.50 L413.50 182.50 L413.50 165.50 L415.50 165.50 L415.50 165.50 L417.50 165.50 L417.50 159.50 L419.50 159.50 L419.50 145.50 L421.50 145.50 L421.50 134.50 L423.50 134.50 L423.50 130.50 L425.50 130.50 L425.50 121.50 L427.50 121.50 L427.50 114.50 L429.50 114.50 L429.50 104.50 L432.50 104.50 L432.50 98.50 L434.50 98.50 L434.50 91.50 L436.50 91.50 L436.50 82.50 L438.50 82.50 L438.50 77.50 L440.50 77.50 L440.50 71.50 L442.50 71.50 L442.50 65.50 L444.50 65.50 L444.50 58.50 L446.50 58.50 L446.50 50.50 L448.50 50.50 L448.50 46.50 L450.50 46.50 L450.50 41.50 L452.50 41.50 L453.17 39.01 L453.56 37.91 L453.96 36.83 L454.35 35.79 L454.74 34.77 L455.14 33.78 L455.53 32.81 L455.92 31.87 L456.32 30.96 L456.71 30.07 L457.10 29.21 L457.50 28.38 L457.89 27.57 L458.28 26.79 L458.68 26.03 L459.07 25.31 L459.46 24.61 L459.86 23.93 L460.25 23.28 L460.64 22.66 L461.04 22.07 L461.43 21.50 L461.82 20.96 L462.22 20.44 L462.61 19.96 L463.00 19.49 L463.40 19.06 L463.79 18.65 L464.18 18.27 L464.58 17.91 L464.97 17.58 L465.36 17.28 L465.76 17.01 L466.15 16.76 L466.54 16.54 L466.94 16.34 L467.33 16.17 L467.72 16.03 L468.12 15.91 L468.51 15.82 L468.90 15.76 L469.30 15.72 L469.69 15.71 L470.08 15.73 L470.48 15.77 L470.87 15.84 L471.26 15.94 L471.66 16.06 L472.05 16.21 L472.44 16.39 L472.84 16.59 L473.23 16.82 L473.62 17.07 L474.02 17.36 L474.41 17.66 L474.80 18.00 L475.20 18.36 L475.59 18.75 L475.98 19.17 L476.38 19.61 L476.77 20.08 L477.16 20.57 L477.56 21.09 L477.95 21.64 L478.34 22.21 L478.74 22.82 L479.13 23.44 L479.52 24.10 L479.92 24.78 L480.31 25.49 L480.70 26.22 L481.10 26.98 L481.49 27.77 L481.88 28.58 L482.28 29.42 L482.50 35.50 L484.50 35.50 L484.50 41.50 L486.50 41.50 L486.50 48.50 L488.50 48.50 L488.50 54.50 L490.50 54.50 L490.50 61.50 L492.50 61.50 L492.50 67.50 L494.50 67.50 L494.50 74.50 L496.50 74.50 L496.50 80.50 L499.50 80.50 L499.50 87.50 L501.50 87.50 L501.50 94.50 L503.50 94.50 L503.50 101.50 L505.50 101.50 L505.50 108.50 L507.50 108.50 L507.50 117.50 L509.50 117.50 L509.50 130.50 L511.50 130.50 L511.50 136.50 L513.50 136.50 L513.50 143.50 L515.50 143.50 L515.50 143.50 L517.50 143.50 L517.50 152.50 L519.50 152.50 L519.50 159.50 L522.50 159.50 L522.50 182.50 L524.50 182.50 L524.50 165.50 L526.50 165.50 L526.50 182.50 L528.50 182.50 L528.50 182.50 L530.50 182.50 L530.50 182.50 L532.50 182.50 L532.50 182.50 L534.50 182.50 L534.50 182.50 L536.50 182.50 L536.50 182.50 L538.50 182.50 L538.50 182.50 L540.50 182.50 L540.50 182.50 L543.50 182.50 L543.50 182.50 L545.50 182.50 L545.50 182.50 L547.50 182.50 L547.50 182.50 L549.50 182.50 L549.50 182.50 L551.50 182.50 L551.50 182.50 L553.50 182.50 L553.50 182.50 L555.50 182.50 L555.50 182.50 L557.50 182.50 L557.50 182.50 L559.50 182.50 L559.50 182.50 L561.50 182.50 L561.50 182.50 L563.50 182.50 L563.50 182.50 L566.50 182.50 L566.50 182.50 L568.50 182.50 L568.50 182.50 L570.50 182.50 L570.50 182.50 L572.50 182.50 L572.50 182.50 L574.50 182.50 L574.50 182.50 L576.50 182.50 L576.50 182.50 L578.50 182.50 L578.50 182.50 L580.50 182.50 L580.50 182.50 L582.50 182.50 L582.50 182.50 L584.50 182.50 L584.50 182.50 L587.50 182.50 L587.50 182.50 L589.50 182.50 L589.50 182.50 L591.50 182.50" stroke="#444444"/>
<path d="M350.50 183.00H413.18 M522.09 183.00H524.19 M526.28 183.00H586.50" stroke="#444444" stroke-width="2"/>
<path d="M346.50 182.50 L348.50 182.50 L348.50 182.50 L350.50 182.50 L350.50 182.50 L352.50 182.50 L352.50 182.50 L354.50 182.50 L354.50 182.50 L356.50 182.50 L356.50 182.50 L358.50 182.50 L358.50 182.50 L360.50 182.50 L360.50 182.50 L362.50 182.50 L362.50 182.50 L365.50 182.50 L365.50 182.50 L367.50 182.50 L367.50 182.50 L369.50 182.50 L369.50 182.50 L371.50 182.50 L371.50 182.50 L373.50 182.50 L373.50 182.50 L375.50 182.50 L375.50 182.50 L377.50 182.50 L377.50 182.50 L379.50 182.50 L379.50 182.50 L381.50 182.50 L381.50 182.50 L383.50 182.50 L383.50 182.50 L385.50 182.50 L385.50 182.50 L388.50 182.50 L388.50 182.50 L390.50 182.50 L390.50 182.50 L392.50 182.50 L392.50 182.50 L394.50 182.50 L394.50 182.50 L396.50 182.50 L396.50 175.50 L398.50 175.50 L398.50 182.50 L400.50 182.50 L400.50 182.50 L402.50 182.50 L402.50 175.50 L404.50 175.50 L404.50 165.50 L406.50 165.50 L406.50 182.50 L408.50 182.50 L408.50 182.50 L411.50 182.50 L411.50 175.50 L413.50 175.50 L413.50 165.50 L415.50 165.50 L415.50 152.50 L417.50 152.50 L417.50 142.50 L419.50 142.50 L419.50 133.50 L421.50 133.50 L421.50 127.50 L423.50 127.50 L423.50 121.50 L425.50 121.50 L425.50 111.50 L427.50 111.50 L427.50 103.50 L429.50 103.50 L429.50 95.50 L432.50 95.50 L432.50 89.50 L434.50 89.50 L434.50 82.50 L436.50 82.50 L436.50 76.50 L438.50 76.50 L438.50 70.50 L440.50 70.50 L440.50 64.50 L442.50 64.50 L442.50 57.50 L444.50 57.50 L444.50 50.50 L446.50 50.50 L446.50 45.50 L448.50 45.50 L448.50 41.50 L450.50 41.50 L450.50 36.50 L452.50 36.50 L452.50 31.50 L455.50 31.50 L455.50 26.50 L457.50 26.50 L457.50 23.50 L459.50 23.50 L459.50 20.50 L461.50 20.50 L461.50 17.50 L463.50 17.50 L463.50 16.50 L465.50 16.50 L465.50 15.50 L467.50 15.50 L467.50 15.50 L469.50 15.50 L469.50 16.50 L471.50 16.50 L471.50 18.50 L473.50 18.50 L473.50 20.50 L476.50 20.50 L476.50 23.50 L478.50 23.50 L478.50 27.50 L480.50 27.50 L480.50 32.50 L482.50 32.50 L482.50 37.50 L484.50 37.50 L484.50 42.50 L486.50 42.50 L486.50 48.50 L488.50 48.50 L488.50 54.50 L490.50 54.50 L490.50 61.50 L492.50 61.50 L492.50 67.50 L494.50 67.50 L494.50 74.50 L496.50 74.50 L496.50 80.50 L499.50 80.50 L499.50 87.50 L501.50 87.50 L501.50 94.50 L503.50 94.50 L503.50 101.50 L505.50 101.50 L505.50 108.50 L507.50 108.50 L507.50 117.50 L509.50 117.50 L509.50 130.50 L511.50 130.50 L511.50 136.50 L513.50 136.50 L513.50 143.50 L515.50 143.50 L515.50 152.50 L517.50 152.50 L517.50 152.50 L519.50 152.50 L519.50 159.50 L522.50 159.50 L522.50 175.50 L524.50 175.50 L524.50 175.50 L526.50 175.50 L526.50 182.50 L528.50 182.50 L528.50 182.50 L530.50 182.50 L530.50 182.50 L532.50 182.50 L532.50 175.50 L534.50 175.50 L534.50 182.50 L536.50 182.50 L536.50 182.50 L538.50 182.50 L538.50 182.50 L540.50 182.50 L540.50 182.50 L543.50 182.50 L543.50 182.50 L545.50 182.50 L545.50 182.50 L547.50 182.50 L547.50 182.50 L549.50 182.50 L549.50 182.50 L551.50 182.50 L551.50 182.50 L553.50 182.50 L553.50 182.50 L555.50 182.50 L555.50 182.50 L557.50 182.50 L557.50 182.50 L559.50 182.50 L559.50 182.50 L561.50 182.50 L561.50 182.50 L563.50 182.50 L563.50 182.50 L566.50 182.50 L566.50 182.50 L568.50 182.50 L568.50 182.50 L570.50 182.50 L570.50 182.50 L572.50 182.50 L572.50 182.50 L574.50 182.50 L574.50 182.50 L576.50 182.50 L576.50 182.50 L578.50 182.50 L578.50 182.50 L580.50 182.50 L580.50 182.50 L582.50 182.50 L582.50 182.50 L584.50 182.50 L584.50 182.50 L587.50 182.50 L587.50 182.50 L589.50 182.50 L589.50 182.50 L591.50 182.50" stroke="#e06068"/>
<path d="M350.50 183.00H396.42 M398.52 183.00H402.71 M406.89 183.00H411.08 M526.28 183.00H532.56 M534.66 183.00H586.50" stroke="#b04048" stroke-width="2"/>
<path d="M350.50 192.50 L350.89 192.50 L351.29 192.50 L351.68 192.50 L352.07 192.50 L352.47 192.50 L352.86 192.50 L353.25 192.50 L353.65 192.50 L354.04 192.50 L354.43 192.50 L354.83 192.50 L355.22 192.50 L355.61 192.50 L356.01 192.50 L356.40 192.50 L356.79 192.50 L357.19 192.50 L357.58 192.50 L357.97 192.50 L358.37 192.50 L358.76 192.50 L359.15 192.50 L359.55 192.50 L359.94 192.50 L360.33 192.50 L360.73 192.50 L361.12 192.50 L361.51 192.50 L361.91 192.50 L362.30 192.50 L362.69 192.50 L363.09 192.50 L363.48 192.50 L363.87 192.50 L364.27 192.50 L364.66 192.50 L365.05 192.50 L365.45 192.50 L365.84 192.50 L366.23 192.50 L366.63 192.50 L367.02 192.50 L367.41 192.50 L367.81 192.50 L368.20 192.50 L368.59 192.50 L368.99 192.50 L369.38 192.50 L369.77 192.50 L370.17 192.50 L370.56 192.50 L370.95 192.50 L371.35 192.50 L371.74 192.50 L372.13 192.50 L372.53 192.50 L372.92 192.50 L373.31 192.50 L373.71 192.50 L374.10 192.50 L374.49 192.50 L374.89 192.50 L375.28 192.50 L375.67 192.50 L376.07 192.50 L376.46 192.50 L376.85 192.50 L377.25 192.50 L377.64 192.50 L378.03 192.50 L378.43 192.50 L378.82 192.50 L379.21 192.50 L379.61 192.50 L380.00 192.50 L380.39 192.50 L380.79 192.50 L381.18 192.50 L381.57 192.50 L381.97 192.50 L382.36 192.50 L382.75 192.50 L383.15 192.50 L383.54 192.50 L383.93 192.50 L384.33 192.50 L384.72 192.50 L385.11 192.50 L385.51 192.50 L385.90 192.50 L386.29 192.50 L386.69 192.50 L387.08 192.50 L387.47 192.50 L387.87 192.50 L388.26 192.50 L388.65 192.50 L389.05 192.50 L389.44 192.50 L389.83 192.50 L390.23 192.50 L390.62 192.50 L391.01 192.50 L391.41 192.50 L391.80 192.50 L392.19 192.50 L392.59 192.50 L392.98 192.50 L393.37 192.50 L393.77 192.50 L394.16 192.50 L394.55 192.50 L394.95 192.50 L395.34 192.50 L395.73 192.50 L396.13 192.50 L396.52 192.50 L396.91 192.50 L397.31 192.50 L397.70 192.50 L398.09 192.50 L398.49 192.50 L398.88 192.50 L399.27 192.50 L399.67 192.50 L400.06 192.50 L400.45 192.50 L400.85 192.50 L401.24 192.50 L401.63 192.50 L402.03 192.50 L402.42 192.50 L402.81 192.50 L403.21 192.50 L403.60 192.50 L403.99 192.50 L404.39 192.50 L404.78 192.50 L405.17 192.50 L405.57 192.50 L405.96 192.50 L406.35 192.50 L406.75 192.50 L407.14 192.50 L407.53 192.50 L407.93 192.50 L408.32 192.50 L408.71 192.50 L409.11 192.50 L409.50 192.50 L409.89 192.50 L410.29 192.50 L410.68 192.50 L411.07 192.50 L411.47 192.50 L411.86 192.50 L412.25 192.50 L412.65 192.50 L413.04 192.50 L413.43 192.50 L413.83 192.50 L414.22 192.50 L414.61 192.50 L415.01 192.50 L415.40 192.50 L415.79 192.50 L416.19 192.50 L416.58 192.50 L416.97 192.50 L417.37 192.50 L417.76 192.50 L418.15 192.50 L418.55 192.50 L418.94 192.50 L419.33 192.50 L419.73 192.50 L420.12 192.50 L420.51 192.50 L420.91 192.50 L421.30 192.50 L421.69 192.50 L422.09 192.50 L422.48 192.50 L422.87 192.50 L423.27 192.50 L423.66 191.87 L424.05 188.82 L424.45 185.80 L424.84 182.81 L425.23 179.84 L425.63 176.90 L426.02 173.99 L426.41 171.10 L426.81 168.24 L427.20 165.41 L427.59 162.60 L427.99 159.82 L428.38 157.06 L428.77 154.34 L429.17 151.64 L429.56 148.96 L429.95 146.31 L430.35 143.69 L430.74 141.10 L431.13 138.53 L431.53 135.99 L431.92 133.47 L432.31 130.99 L432.71 128.52 L433.10 126.09 L433.49 123.68 L433.89 121.30 L434.28 118.94 L434.67 116.61 L435.07 114.31 L435.46 112.04 L435.85 109.79 L436.25 107.56 L436.64 105.37 L437.03 103.20 L437.43 101.06 L437.82 98.94 L438.21 96.85 L438.61 94.79 L439.00 92.75 L439.39 90.74 L439.79 88.76 L440.18 86.80 L440.57 84.87 L440.97 82.97 L441.36 81.09 L441.75 79.24 L442.15 77.41 L442.54 75.62 L442.93 73.84 L443.33 72.10 L443.72 70.38 L444.11 68.69 L444.51 67.03 L444.90 65.39 L445.29 63.78 L445.69 62.19 L446.08 60.63 L446.47 59.10 L446.87 57.60 L447.26 56.12 L447.65 54.67 L448.05 53.24 L448.44 51.84 L448.83 50.47 L449.23 49.12 L449.62 47.80 L450.01 46.51 L450.41 45.25 L450.80 44.01 L451.19 42.79 L451.59 41.61 L451.98 40.45 L452.37 39.31 L452.77 38.21 L453.16 37.13 L453.55 36.07 L453.95 35.05 L454.34 34.05 L454.73 33.07 L455.13 32.13 L455.52 31.20 L455.91 30.31 L456.31 29.44 L456.70 28.60 L457.09 27.79 L457.49 27.00 L457.88 26.24 L458.27 25.50 L458.67 24.80 L459.06 24.11 L459.45 23.46 L459.85 22.83 L460.24 22.23 L460.63 21.65 L461.03 21.11 L461.42 20.58 L461.81 20.09 L462.21 19.62 L462.60 19.18 L462.99 18.76 L463.39 18.37 L463.78 18.01 L464.17 17.67 L464.57 17.36 L464.96 17.08 L465.35 16.82 L465.75 16.59 L466.14 16.39 L466.53 16.21 L466.93 16.06 L467.32 15.94 L467.71 15.84 L468.11 15.77 L468.50 15.73 L468.89 15.71 L469.29 15.72 L469.68 15.76 L470.07 15.82 L470.47 15.91 L470.86 16.02 L471.25 16.17 L471.65 16.33 L472.04 16.53 L472.43 16.75 L472.83 17.00 L473.22 17.28 L473.61 17.58 L474.01 17.90 L474.40 18.26 L474.79 18.64 L475.19 19.05 L475.58 19.48 L475.97 19.94 L476.37 20.43 L476.76 20.95 L477.15 21.49 L477.55 22.05 L477.94 22.65 L478.33 23.27 L478.73 23.92 L479.12 24.59 L479.51 25.29 L479.91 26.02 L480.30 26.77 L480.69 27.55 L481.09 28.35 L481.48 29.19 L481.87 30.05 L482.27 30.93 L482.66 31.85 L483.05 32.79 L483.45 33.75 L483.84 34.74 L484.23 35.76 L484.63 36.81 L485.02 37.88 L485.41 38.98 L485.81 40.10 L486.20 41.26 L486.59 42.43 L486.99 43.64 L487.38 44.87 L487.77 46.13 L488.17 47.41 L488.56 48.73 L488.95 50.06 L489.35 51.43 L489.74 52.82 L490.13 54.24 L490.53 55.68 L490.92 57.15 L491.31 58.65 L491.71 60.17 L492.10 61.72 L492.49 63.30 L492.89 64.90 L493.28 66.53 L493.67 68.19 L494.07 69.87 L494.46 71.58 L494.85 73.32 L495.25 75.08 L495.64 76.87 L496.03 78.69 L496.43 80.53 L496.82 82.40 L497.21 84.29 L497.61 86.22 L498.00 88.17 L498.39 90.14 L498.79 92.14 L499.18 94.17 L499.57 96.23 L499.97 98.31 L500.36 100.42 L500.75 102.55 L501.15 104.71 L501.54 106.90 L501.93 109.12 L502.33 111.36 L502.72 113.63 L503.11 115.92 L503.51 118.24 L503.90 120.59 L504.29 122.96 L504.69 125.36 L505.08 127.79 L505.47 130.24 L505.87 132.72 L506.26 135.23 L506.65 137.77 L507.05 140.33 L507.44 142.91 L507.83 145.52 L508.23 148.16 L508.62 150.83 L509.01 153.52 L509.41 156.24 L509.80 158.99 L510.19 161.76 L510.59 164.56 L510.98 167.39 L511.37 170.24 L511.77 173.12 L512.16 176.02 L512.55 178.96 L512.95 181.91 L513.34 184.90 L513.73 187.91 L514.13 190.95 L514.52 192.50 L514.91 192.50 L515.31 192.50 L515.70 192.50 L516.09 192.50 L516.49 192.50 L516.88 192.50 L517.27 192.50 L517.67 192.50 L518.06 192.50 L518.45 192.50 L518.85 192.50 L519.24 192.50 L519.63 192.50 L520.03 192.50 L520.42 192.50 L520.81 192.50 L521.21 192.50 L521.60 192.50 L521.99 192.50 L522.39 192.50 L522.78 192.50 L523.17 192.50 L523.57 192.50 L523.96 192.50 L524.35 192.50 L524.75 192.50 L525.14 192.50 L525.53 192.50 L525.93 192.50 L526.32 192.50 L526.71 192.50 L527.11 192.50 L527.50 192.50 L527.89 192.50 L528.29 192.50 L528.68 192.50 L529.07 192.50 L529.47 192.50 L529.86 192.50 L530.25 192.50 L530.65 192.50 L531.04 192.50 L531.43 192.50 L531.83 192.50 L532.22 192.50 L532.61 192.50 L533.01 192.50 L533.40 192.50 L533.79 192.50 L534.19 192.50 L534.58 192.50 L534.97 192.50 L535.37 192.50 L535.76 192.50 L536.15 192.50 L536.55 192.50 L536.94 192.50 L537.33 192.50 L537.73 192.50 L538.12 192.50 L538.51 192.50 L538.91 192.50 L539.30 192.50 L539.69 192.50 L540.09 192.50 L540.48 192.50 L540.87 192.50 L541.27 192.50 L541.66 192.50 L542.05 192.50 L542.45 192.50 L542.84 192.50 L543.23 192.50 L543.63 192.50 L544.02 192.50 L544.41 192.50 L544.81 192.50 L545.20 192.50 L545.59 192.50 L545.99 192.50 L546.38 192.50 L546.77 192.50 L547.17 192.50 L547.56 192.50 L547.95 192.50 L548.35 192.50 L548.74 192.50 L549.13 192.50 L549.53 192.50 L549.92 192.50 L550.31 192.50 L550.71 192.50 L551.10 192.50 L551.49 192.50 L551.89 192.50 L552.28 192.50 L552.67 192.50 L553.07 192.50 L553.46 192.50 L553.85 192.50 L554.25 192.50 L554.64 192.50 L555.03 192.50 L555.43 192.50 L555.82 192.50 L556.21 192.50 L556.61 192.50 L557.00 192.50 L557.39 192.50 L557.79 192.50 L558.18 192.50 L558.57 192.50 L558.97 192.50 L559.36 192.50 L559.75 192.50 L560.15 192.50 L560.54 192.50 L560.93 192.50 L561.33 192.50 L561.72 192.50 L562.11 192.50 L562.51 192.50 L562.90 192.50 L563.29 192.50 L563.69 192.50 L564.08 192.50 L564.47 192.50 L564.87 192.50 L565.26 192.50 L565.65 192.50 L566.05 192.50 L566.44 192.50 L566.83 192.50 L567.23 192.50 L567.62 192.50 L568.01 192.50 L568.41 192.50 L568.80 192.50 L569.19 192.50 L569.59 192.50 L569.98 192.50 L570.37 192.50 L570.77 192.50 L571.16 192.50 L571.55 192.50 L571.95 192.50 L572.34 192.50 L572.73 192.50 L573.13 192.50 L573.52 192.50 L573.91 192.50 L574.31 192.50 L574.70 192.50 L575.09 192.50 L575.49 192.50 L575.88 192.50 L576.27 192.50 L576.67 192.50 L577.06 192.50 L577.45 192.50 L577.85 192.50 L578.24 192.50 L578.63 192.50 L579.03 192.50 L579.42 192.50 L579.81 192.50 L580.21 192.50 L580.60 192.50 L580.99 192.50 L581.39 192.50 L581.78 192.50 L582.17 192.50 L582.57 192.50 L582.96 192.50 L583.35 192.50 L583.75 192.50 L584.14 192.50 L584.53 192.50 L584.93 192.50 L585.32 192.50 L585.71 192.50 L586.11 192.50 L586.50 192.50" stroke="#5858a8"/>
</g>
<clipPath id="clipc"><rect x="45.50" y="234.50" width="236.00" height="168.50"/></clipPath>
<g clip-path="url(#clipc)" fill="none" stroke-width="1">
<path d="M41.50 401.50 L43.50 401.50 L43.50 401.50 L45.50 401.50 L45.50 401.50 L47.50 401.50 L47.50 401.50 L49.50 401.50 L49.50 401.50 L51.50 401.50 L51.50 401.50 L53.50 401.50 L53.50 401.50 L55.50 401.50 L55.50 401.50 L57.50 401.50 L57.50 401.50 L59.50 401.50 L59.50 401.50 L61.50 401.50 L61.50 401.50 L63.50 401.50 L63.50 401.50 L65.50 401.50 L65.50 401.50 L67.50 401.50 L67.50 401.50 L69.50 401.50 L69.50 401.50 L71.50 401.50 L71.50 401.50 L73.50 401.50 L73.50 401.50 L75.50 401.50 L75.50 401.50 L77.50 401.50 L77.50 401.50 L79.50 401.50 L79.50 401.50 L81.50 401.50 L81.50 401.50 L83.50 401.50 L83.50 401.50 L85.50 401.50 L85.50 401.50 L86.50 401.50 L86.50 401.50 L88.50 401.50 L88.50 401.50 L90.50 401.50 L90.50 401.50 L92.50 401.50 L92.50 401.50 L94.50 401.50 L94.50 401.50 L96.50 401.50 L96.50 401.50 L98.50 401.50 L98.50 401.50 L100.50 401.50 L100.50 401.50 L102.50 401.50 L102.50 401.50 L104.50 401.50 L104.50 401.50 L106.50 401.50 L106.50 401.50 L108.50 401.50 L108.50 401.50 L110.50 401.50 L110.50 401.50 L112.50 401.50 L112.50 401.50 L114.50 401.50 L114.50 401.50 L116.50 401.50 L116.50 401.50 L118.50 401.50 L118.50 401.50 L120.50 401.50 L120.50 401.50 L122.50 401.50 L122.50 401.50 L124.50 401.50 L124.50 401.50 L126.50 401.50 L126.50 401.50 L128.50 401.50 L128.50 401.50 L130.50 401.50 L130.50 400.50 L132.50 400.50 L132.50 399.50 L134.50 399.50 L134.50 398.50 L136.50 398.50 L136.50 397.50 L138.50 397.50 L138.50 395.50 L140.50 395.50 L140.50 393.50 L142.50 393.50 L142.50 388.50 L144.50 388.50 L144.50 380.50 L146.50 380.50 L146.50 369.50 L148.50 369.50 L148.50 355.50 L150.50 355.50 L150.50 337.50 L152.50 337.50 L152.50 317.50 L154.50 317.50 L154.50 296.50 L156.50 296.50 L156.50 274.50 L158.50 274.50 L158.50 256.50 L160.50 256.50 L160.50 243.50 L162.50 243.50 L162.50 236.50 L164.50 236.50 L164.50 236.50 L166.50 236.50 L166.50 245.50 L168.50 245.50 L168.50 259.50 L170.50 259.50 L170.50 278.50 L172.50 278.50 L172.50 299.50 L174.50 299.50 L174.50 322.50 L176.50 322.50 L176.50 341.50 L178.50 341.50 L178.50 358.50 L180.50 358.50 L180.50 371.50 L182.50 371.50 L182.50 382.50 L184.50 382.50 L184.50 389.50 L186.50 389.50 L186.50 394.50 L188.50 394.50 L188.50 397.50 L190.50 397.50 L190.50 399.50 L192.50 399.50 L192.50 399.50 L194.50 399.50 L194.50 400.50 L196.50 400.50 L196.50 400.50 L198.50 400.50 L198.50 401.50 L200.50 401.50 L200.50 401.50 L202.50 401.50 L202.50 401.50 L204.50 401.50 L204.50 401.50 L206.50 401.50 L206.50 401.50 L208.50 401.50 L208.50 401.50 L210.50 401.50 L210.50 401.50 L212.50 401.50 L212.50 401.50 L214.50 401.50 L214.50 401.50 L216.50 401.50 L216.50 401.50 L218.50 401.50 L218.50 401.50 L220.50 401.50 L220.50 401.50 L222.50 401.50 L222.50 401.50 L224.50 401.50 L224.50 401.50 L226.50 401.50 L226.50 401.50 L228.50 401.50 L228.50 401.50 L230.50 401.50 L230.50 401.50 L231.50 401.50 L231.50 401.50 L233.50 401.50 L233.50 401.50 L235.50 401.50 L235.50 401.50 L237.50 401.50 L237.50 401.50 L239.50 401.50 L239.50 401.50 L241.50 401.50 L241.50 401.50 L243.50 401.50 L243.50 401.50 L245.50 401.50 L245.50 401.50 L247.50 401.50 L247.50 401.50 L249.50 401.50 L249.50 401.50 L251.50 401.50 L251.50 401.50 L253.50 401.50 L253.50 401.50 L255.50 401.50 L255.50 401.50 L257.50 401.50 L257.50 401.50 L259.50 401.50 L259.50 401.50 L261.50 401.50 L261.50 401.50 L263.50 401.50 L263.50 401.50 L265.50 401.50 L265.50 401.50 L267.50 401.50 L267.50 401.50 L269.50 401.50 L269.50 401.50 L271.50 401.50 L271.50 401.50 L273.50 401.50 L273.50 401.50 L275.50 401.50 L275.50 401.50 L277.50 401.50 L277.50 401.50 L279.50 401.50 L279.50 401.50 L281.50 401.50 L281.50 401.50 L283.50 401.50 L283.50 401.50 L285.50 401.50" stroke="#444444"/>
<path d="M45.50 402.00H130.69 M198.22 402.00H281.50" stroke="#444444" stroke-width="2"/>
<path d="M41.50 401.50 L162.50 401.50 L162.50 -690.50 L164.50 -690.50 L164.50 -690.50 L166.50 -690.50 L166.50 353.50 L168.50 353.50 L168.50 376.50 L170.50 376.50 L170.50 389.50 L172.50 389.50 L172.50 398.50 L174.50 398.50 L174.50 395.50 L176.50 395.50 L176.50 398.50 L177.50 398.50 L177.50 400.50 L179.50 400.50 L179.50 401.50 L181.50 401.50 L181.50 401.50 L183.50 401.50 L183.50 401.50 L185.50 401.50 L185.50 401.50 L187.50 401.50 L187.50 401.50 L285.50 401.50" stroke="#e06068"/>
<path d="M45.50 401.50 L45.89 401.50 L46.29 401.50 L46.68 401.50 L47.07 401.50 L47.47 401.50 L47.86 401.50 L48.25 401.50 L48.65 401.50 L49.04 401.50 L49.43 401.50 L49.83 401.50 L50.22 401.50 L50.61 401.50 L51.01 401.50 L51.40 401.50 L51.79 401.50 L52.19 401.50 L52.58 401.50 L52.97 401.50 L53.37 401.50 L53.76 401.50 L54.15 401.50 L54.55 401.50 L54.94 401.50 L55.33 401.50 L55.73 401.50 L56.12 401.50 L56.51 401.50 L56.91 401.50 L57.30 401.50 L57.69 401.50 L58.09 401.50 L58.48 401.50 L58.87 401.50 L59.27 401.50 L59.66 401.50 L60.05 401.50 L60.45 401.50 L60.84 401.50 L61.23 401.50 L61.63 401.50 L62.02 401.50 L62.41 401.50 L62.81 401.50 L63.20 401.50 L63.59 401.50 L63.99 401.50 L64.38 401.50 L64.77 401.50 L65.17 401.50 L65.56 401.50 L65.95 401.50 L66.35 401.50 L66.74 401.50 L67.13 401.50 L67.53 401.50 L67.92 401.50 L68.31 401.50 L68.71 401.50 L69.10 401.50 L69.49 401.50 L69.89 401.50 L70.28 401.50 L70.67 401.50 L71.07 401.50 L71.46 401.50 L71.85 401.50 L72.25 401.50 L72.64 401.50 L73.03 401.50 L73.43 401.50 L73.82 401.50 L74.21 401.50 L74.61 401.50 L75.00 401.50 L75.39 401.50 L75.79 401.50 L76.18 401.50 L76.57 401.50 L76.97 401.50 L77.36 401.50 L77.75 401.50 L78.15 401.50 L78.54 401.50 L78.93 401.50 L79.33 401.50 L79.72 401.50 L80.11 401.50 L80.51 401.50 L80.90 401.50 L81.29 401.50 L81.69 401.50 L82.08 401.50 L82.47 401.50 L82.87 401.50 L83.26 401.50 L83.65 401.50 L84.05 401.50 L84.44 401.50 L84.83 401.50 L85.23 401.50 L85.62 401.50 L86.01 401.50 L86.41 401.50 L86.80 401.50 L87.19 401.50 L87.59 401.50 L87.98 401.50 L88.37 401.50 L88.77 401.50 L89.16 401.50 L89.55 401.50 L89.95 401.50 L90.34 401.50 L90.73 401.50 L91.13 401.50 L91.52 401.50 L91.91 401.50 L92.31 401.50 L92.70 401.50 L93.09 401.50 L93.49 401.50 L93.88 401.50 L94.27 401.50 L94.67 401.50 L95.06 401.50 L95.45 401.50 L95.85 401.50 L96.24 401.50 L96.63 401.50 L97.03 401.50 L97.42 401.50 L97.81 401.50 L98.21 401.50 L98.60 401.50 L98.99 401.50 L99.39 401.50 L99.78 401.50 L100.17 401.50 L100.57 401.50 L100.96 401.50 L101.35 401.50 L101.75 401.50 L102.14 401.50 L102.53 401.50 L102.93 401.50 L103.32 401.50 L103.71 401.50 L104.11 401.50 L104.50 401.50 L104.89 401.50 L105.29 401.50 L105.68 401.50 L106.07 401.50 L106.47 401.50 L106.86 401.50 L107.25 401.50 L107.65 401.50 L108.04 401.50 L108.43 401.50 L108.83 401.50 L109.22 401.50 L109.61 401.50 L110.01 401.50 L110.40 401.50 L110.79 401.50 L111.19 401.50 L111.58 401.50 L111.97 401.50 L112.37 401.50 L112.76 401.50 L113.15 401.50 L113.55 401.50 L113.94 401.50 L114.33 401.50 L114.73 401.50 L115.12 401.50 L115.51 401.50 L115.91 401.50 L116.30 401.50 L116.69 401.50 L117.09 401.50 L117.48 401.50 L117.87 401.50 L118.27 401.50 L118.66 401.50 L119.05 401.50 L119.45 401.50 L119.84 401.50 L120.23 401.50 L120.63 401.50 L121.02 401.50 L121.41 401.50 L121.81 401.50 L122.20 401.49 L122.59 401.49 L122.99 401.49 L123.38 401.49 L123.77 401.49 L124.17 401.49 L124.56 401.48 L124.95 401.48 L125.35 401.47 L125.74 401.47 L126.13 401.46 L126.53 401.46 L126.92 401.45 L127.31 401.44 L127.71 401.43 L128.10 401.42 L128.49 401.40 L128.89 401.38 L129.28 401.36 L129.67 401.34 L130.07 401.31 L130.46 401.28 L130.85 401.24 L131.25 401.20 L131.64 401.15 L132.03 401.09 L132.43 401.03 L132.82 400.96 L133.21 400.87 L133.61 400.78 L134.00 400.67 L134.39 400.54 L134.79 400.41 L135.18 400.25 L135.57 400.07 L135.97 399.87 L136.36 399.65 L136.75 399.39 L137.15 399.11 L137.54 398.80 L137.93 398.45 L138.33 398.06 L138.72 397.63 L139.11 397.15 L139.51 396.62 L139.90 396.04 L140.29 395.40 L140.69 394.70 L141.08 393.93 L141.47 393.09 L141.87 392.18 L142.26 391.18 L142.65 390.10 L143.05 388.92 L143.44 387.65 L143.83 386.29 L144.23 384.81 L144.62 383.23 L145.01 381.53 L145.41 379.71 L145.80 377.78 L146.19 375.71 L146.59 373.52 L146.98 371.20 L147.37 368.75 L147.77 366.16 L148.16 363.43 L148.55 360.58 L148.95 357.58 L149.34 354.46 L149.73 351.20 L150.13 347.82 L150.52 344.31 L150.91 340.68 L151.31 336.95 L151.70 333.11 L152.09 329.17 L152.49 325.14 L152.88 321.04 L153.27 316.87 L153.67 312.65 L154.06 308.39 L154.45 304.11 L154.85 299.81 L155.24 295.51 L155.63 291.24 L156.03 287.00 L156.42 282.82 L156.81 278.70 L157.21 274.68 L157.60 270.77 L157.99 266.98 L158.39 263.33 L158.78 259.84 L159.17 256.53 L159.57 253.41 L159.96 250.50 L160.35 247.82 L160.75 245.37 L161.14 243.18 L161.53 241.24 L161.93 239.58 L162.32 238.20 L162.71 237.11 L163.11 236.31 L163.50 235.81 L163.89 235.61 L164.29 235.72 L164.68 236.13 L165.07 236.83 L165.47 237.84 L165.86 239.13 L166.25 240.71 L166.65 242.57 L167.04 244.69 L167.43 247.06 L167.83 249.67 L168.22 252.52 L168.61 255.57 L169.01 258.83 L169.40 262.26 L169.79 265.87 L170.19 269.62 L170.58 273.49 L170.97 277.49 L171.37 281.57 L171.76 285.74 L172.15 289.96 L172.55 294.23 L172.94 298.52 L173.33 302.82 L173.73 307.11 L174.12 311.38 L174.51 315.61 L174.91 319.80 L175.30 323.92 L175.69 327.97 L176.09 331.93 L176.48 335.81 L176.87 339.57 L177.27 343.23 L177.66 346.78 L178.05 350.20 L178.45 353.49 L178.84 356.66 L179.23 359.69 L179.63 362.59 L180.02 365.35 L180.41 367.98 L180.81 370.48 L181.20 372.84 L181.59 375.07 L181.99 377.17 L182.38 379.14 L182.77 381.00 L183.17 382.73 L183.56 384.35 L183.95 385.85 L184.35 387.25 L184.74 388.55 L185.13 389.76 L185.53 390.87 L185.92 391.89 L186.31 392.83 L186.71 393.69 L187.10 394.48 L187.49 395.20 L187.89 395.86 L188.28 396.46 L188.67 397.00 L189.07 397.49 L189.46 397.94 L189.85 398.34 L190.25 398.70 L190.64 399.02 L191.03 399.31 L191.43 399.57 L191.82 399.81 L192.21 400.01 L192.61 400.20 L193.00 400.36 L193.39 400.50 L193.79 400.63 L194.18 400.75 L194.57 400.84 L194.97 400.93 L195.36 401.01 L195.75 401.08 L196.15 401.13 L196.54 401.19 L196.93 401.23 L197.33 401.27 L197.72 401.30 L198.11 401.33 L198.51 401.36 L198.90 401.38 L199.29 401.40 L199.69 401.41 L200.08 401.43 L200.47 401.44 L200.87 401.45 L201.26 401.46 L201.65 401.46 L202.05 401.47 L202.44 401.47 L202.83 401.48 L203.23 401.48 L203.62 401.48 L204.01 401.49 L204.41 401.49 L204.80 401.49 L205.19 401.49 L205.59 401.49 L205.98 401.50 L206.37 401.50 L206.77 401.50 L207.16 401.50 L207.55 401.50 L207.95 401.50 L208.34 401.50 L208.73 401.50 L209.13 401.50 L209.52 401.50 L209.91 401.50 L210.31 401.50 L210.70 401.50 L211.09 401.50 L211.49 401.50 L211.88 401.50 L212.27 401.50 L212.67 401.50 L213.06 401.50 L213.45 401.50 L213.85 401.50 L214.24 401.50 L214.63 401.50 L215.03 401.50 L215.42 401.50 L215.81 401.50 L216.21 401.50 L216.60 401.50 L216.99 401.50 L217.39 401.50 L217.78 401.50 L218.17 401.50 L218.57 401.50 L218.96 401.50 L219.35 401.50 L219.75 401.50 L220.14 401.50 L220.53 401.50 L220.93 401.50 L221.32 401.50 L221.71 401.50 L222.11 401.50 L222.50 401.50 L222.89 401.50 L223.29 401.50 L223.68 401.50 L224.07 401.50 L224.47 401.50 L224.86 401.50 L225.25 401.50 L225.65 401.50 L226.04 401.50 L226.43 401.50 L226.83 401.50 L227.22 401.50 L227.61 401.50 L228.01 401.50 L228.40 401.50 L228.79 401.50 L229.19 401.50 L229.58 401.50 L229.97 401.50 L230.37 401.50 L230.76 401.50 L231.15 401.50 L231.55 401.50 L231.94 401.50 L232.33 401.50 L232.73 401.50 L233.12 401.50 L233.51 401.50 L233.91 401.50 L234.30 401.50 L234.69 401.50 L235.09 401.50 L235.48 401.50 L235.87 401.50 L236.27 401.50 L236.66 401.50 L237.05 401.50 L237.45 401.50 L237.84 401.50 L238.23 401.50 L238.63 401.50 L239.02 401.50 L239.41 401.50 L239.81 401.50 L240.20 401.50 L240.59 401.50 L240.99 401.50 L241.38 401.50 L241.77 401.50 L242.17 401.50 L242.56 401.50 L242.95 401.50 L243.35 401.50 L243.74 401.50 L244.13 401.50 L244.53 401.50 L244.92 401.50 L245.31 401.50 L245.71 401.50 L246.10 401.50 L246.49 401.50 L246.89 401.50 L247.28 401.50 L247.67 401.50 L248.07 401.50 L248.46 401.50 L248.85 401.50 L249.25 401.50 L249.64 401.50 L250.03 401.50 L250.43 401.50 L250.82 401.50 L251.21 401.50 L251.61 401.50 L252.00 401.50 L252.39 401.50 L252.79 401.50 L253.18 401.50 L253.57 401.50 L253.97 401.50 L254.36 401.50 L254.75 401.50 L255.15 401.50 L255.54 401.50 L255.93 401.50 L256.33 401.50 L256.72 401.50 L257.11 401.50 L257.51 401.50 L257.90 401.50 L258.29 401.50 L258.69 401.50 L259.08 401.50 L259.47 401.50 L259.87 401.50 L260.26 401.50 L260.65 401.50 L261.05 401.50 L261.44 401.50 L261.83 401.50 L262.23 401.50 L262.62 401.50 L263.01 401.50 L263.41 401.50 L263.80 401.50 L264.19 401.50 L264.59 401.50 L264.98 401.50 L265.37 401.50 L265.77 401.50 L266.16 401.50 L266.55 401.50 L266.95 401.50 L267.34 401.50 L267.73 401.50 L268.13 401.50 L268.52 401.50 L268.91 401.50 L269.31 401.50 L269.70 401.50 L270.09 401.50 L270.49 401.50 L270.88 401.50 L271.27 401.50 L271.67 401.50 L272.06 401.50 L272.45 401.50 L272.85 401.50 L273.24 401.50 L273.63 401.50 L274.03 401.50 L274.42 401.50 L274.81 401.50 L275.21 401.50 L275.60 401.50 L275.99 401.50 L276.39 401.50 L276.78 401.50 L277.17 401.50 L277.57 401.50 L277.96 401.50 L278.35 401.50 L278.75 401.50 L279.14 401.50 L279.53 401.50 L279.93 401.50 L280.32 401.50 L280.71 401.50 L281.11 401.50 L281.50 401.50" stroke="#5858a8"/>
<path d="M45.50 402.00H133.09 M194.82 402.00H281.50" stroke="#8a8ac0" stroke-width="2"/>
</g>
<clipPath id="clipd"><rect x="350.50" y="234.50" width="236.00" height="168.50"/></clipPath>
<g clip-path="url(#clipd)" fill="none" stroke-width="1">
<path d="M346.50 401.50 L348.50 401.50 L348.50 401.50 L350.50 401.50 L350.50 401.50 L352.50 401.50 L352.50 401.50 L354.50 401.50 L354.50 401.50 L356.50 401.50 L356.50 401.50 L358.50 401.50 L358.50 401.50 L360.50 401.50 L360.50 401.50 L362.50 401.50 L362.50 401.50 L364.50 401.50 L364.50 401.50 L366.50 401.50 L366.50 401.50 L368.50 401.50 L368.50 401.50 L370.50 401.50 L370.50 401.50 L372.50 401.50 L372.50 401.50 L374.50 401.50 L374.50 401.50 L376.50 401.50 L376.50 401.50 L378.50 401.50 L378.50 401.50 L380.50 401.50 L380.50 401.50 L382.50 401.50 L382.50 401.50 L384.50 401.50 L384.50 401.50 L386.50 401.50 L386.50 401.50 L388.50 401.50 L388.50 401.50 L390.50 401.50 L390.50 401.50 L391.50 401.50 L391.50 401.50 L393.50 401.50 L393.50 401.50 L395.50 401.50 L395.50 401.50 L397.50 401.50 L397.50 401.50 L399.50 401.50 L399.50 401.50 L401.50 401.50 L401.50 401.50 L403.50 401.50 L403.50 401.50 L405.50 401.50 L405.50 401.50 L407.50 401.50 L407.50 401.50 L409.50 401.50 L409.50 401.50 L411.50 401.50 L411.50 384.50 L413.50 384.50 L413.50 378.50 L415.50 378.50 L415.50 378.50 L417.50 378.50 L417.50 374.50 L419.50 374.50 L419.50 356.50 L421.50 356.50 L421.50 352.50 L423.50 352.50 L423.50 344.50 L425.50 344.50 L425.50 344.50 L427.50 344.50 L427.50 335.50 L429.50 335.50 L429.50 328.50 L431.50 328.50 L431.50 325.50 L433.50 325.50 L433.50 319.50 L435.50 319.50 L435.50 309.50 L437.50 309.50 L437.50 302.50 L439.50 302.50 L439.50 295.50 L441.50 295.50 L441.50 289.50 L443.50 289.50 L443.50 284.50 L445.50 284.50 L445.50 278.50 L447.50 278.50 L447.50 271.50 L449.50 271.50 L449.50 264.50 L451.50 264.50 L451.50 258.50 L453.50 258.50 L453.50 253.50 L455.50 253.50 L455.50 248.50 L457.50 248.50 L457.50 244.50 L459.50 244.50 L459.50 241.50 L461.50 241.50 L461.50 238.50 L463.50 238.50 L463.50 236.50 L465.50 236.50 L465.50 235.50 L467.50 235.50 L467.50 234.50 L469.50 234.50 L469.50 234.50 L471.50 234.50 L471.50 235.50 L473.50 235.50 L473.50 237.50 L475.50 237.50 L475.50 239.50 L477.50 239.50 L477.50 241.50 L479.50 241.50 L479.50 245.50 L481.50 245.50 L481.50 249.50 L483.50 249.50 L483.50 254.50 L485.50 254.50 L485.50 259.50 L487.50 259.50 L487.50 265.50 L489.50 265.50 L489.50 272.50 L491.50 272.50 L491.50 280.50 L493.50 280.50 L493.50 288.50 L495.50 288.50 L495.50 295.50 L497.50 295.50 L497.50 301.50 L499.50 301.50 L499.50 308.50 L501.50 308.50 L501.50 314.50 L503.50 314.50 L503.50 321.50 L505.50 321.50 L505.50 327.50 L507.50 327.50 L507.50 340.50 L509.50 340.50 L509.50 352.50 L511.50 352.50 L511.50 357.50 L513.50 357.50 L513.50 362.50 L515.50 362.50 L515.50 362.50 L517.50 362.50 L517.50 368.50 L519.50 368.50 L519.50 401.50 L521.50 401.50 L521.50 401.50 L523.50 401.50 L523.50 384.50 L525.50 384.50 L525.50 401.50 L527.50 401.50 L527.50 401.50 L529.50 401.50 L529.50 401.50 L531.50 401.50 L531.50 394.50 L533.50 394.50 L533.50 401.50 L535.50 401.50 L535.50 401.50 L536.50 401.50 L536.50 401.50 L538.50 401.50 L538.50 401.50 L540.50 401.50 L540.50 401.50 L542.50 401.50 L542.50 401.50 L544.50 401.50 L544.50 401.50 L546.50 401.50 L546.50 401.50 L548.50 401.50 L548.50 401.50 L550.50 401.50 L550.50 401.50 L552.50 401.50 L552.50 401.50 L554.50 401.50 L554.50 401.50 L556.50 401.50 L556.50 401.50 L558.50 401.50 L558.50 401.50 L560.50 401.50 L560.50 401.50 L562.50 401.50 L562.50 401.50 L564.50 401.50 L564.50 401.50 L566.50 401.50 L566.50 401.50 L568.50 401.50 L568.50 401.50 L570.50 401.50 L570.50 401.50 L572.50 401.50 L572.50 401.50 L574.50 401.50 L574.50 401.50 L576.50 401.50 L576.50 401.50 L578.50 401.50 L578.50 401.50 L580.50 401.50 L580.50 401.50 L582.50 401.50 L582.50 401.50 L584.50 401.50 L584.50 401.50 L586.50 401.50 L586.50 401.50 L588.50 401.50 L588.50 401.50 L590.50 401.50" stroke="#444444"/>
<path d="M350.50 402.00H411.85 M519.11 402.00H523.08 M525.07 402.00H531.03 M533.02 402.00H586.50" stroke="#444444" stroke-width="2"/>
<path d="M346.50 401.50 L467.50 401.50 L467.50 207.50 L469.50 207.50 L469.50 207.50 L471.50 207.50 L471.50 252.50 L473.50 252.50 L473.50 262.50 L475.50 262.50 L475.50 272.50 L477.50 272.50 L477.50 291.50 L479.50 291.50 L479.50 284.50 L481.50 284.50 L481.50 291.50 L482.50 291.50 L482.50 306.50 L484.50 306.50 L484.50 321.50 L486.50 321.50 L486.50 332.50 L488.50 332.50 L488.50 344.50 L490.50 344.50 L490.50 384.50 L492.50 384.50 L492.50 401.50 L590.50 401.50" stroke="#e06068"/>
<path d="M350.50 402.00H467.07 M492.94 402.00H586.50" stroke="#c46a70" stroke-width="2"/>
<path d="M350.50 411.50 L350.89 411.50 L351.29 411.50 L351.68 411.50 L352.07 411.50 L352.47 411.50 L352.86 411.50 L353.25 411.50 L353.65 411.50 L354.04 411.50 L354.43 411.50 L354.83 411.50 L355.22 411.50 L355.61 411.50 L356.01 411.50 L356.40 411.50 L356.79 411.50 L357.19 411.50 L357.58 411.50 L357.97 411.50 L358.37 411.50 L358.76 411.50 L359.15 411.50 L359.55 411.50 L359.94 411.50 L360.33 411.50 L360.73 411.50 L361.12 411.50 L361.51 411.50 L361.91 411.50 L362.30 411.50 L362.69 411.50 L363.09 411.50 L363.48 411.50 L363.87 411.50 L364.27 411.50 L364.66 411.50 L365.05 411.50 L365.45 411.50 L365.84 411.50 L366.23 411.50 L366.63 411.50 L367.02 411.50 L367.41 411.50 L367.81 411.50 L368.20 411.50 L368.59 411.50 L368.99 411.50 L369.38 411.50 L369.77 411.50 L370.17 411.50 L370.56 411.50 L370.95 411.50 L371.35 411.50 L371.74 411.50 L372.13 411.50 L372.53 411.50 L372.92 411.50 L373.31 411.50 L373.71 411.50 L374.10 411.50 L374.49 411.50 L374.89 411.50 L375.28 411.50 L375.67 411.50 L376.07 411.50 L376.46 411.50 L376.85 411.50 L377.25 411.50 L377.64 411.50 L378.03 411.50 L378.43 411.50 L378.82 411.50 L379.21 411.50 L379.61 411.50 L380.00 411.50 L380.39 411.50 L380.79 411.50 L381.18 411.50 L381.57 411.50 L381.97 411.50 L382.36 411.50 L382.75 411.50 L383.15 411.50 L383.54 411.50 L383.93 411.50 L384.33 411.50 L384.72 411.50 L385.11 411.50 L385.51 411.50 L385.90 411.50 L386.29 411.50 L386.69 411.50 L387.08 411.50 L387.47 411.50 L387.87 411.50 L388.26 411.50 L388.65 411.50 L389.05 411.50 L389.44 411.50 L389.83 411.50 L390.23 411.50 L390.62 411.50 L391.01 411.50 L391.41 411.50 L391.80 411.50 L392.19 411.50 L392.59 411.50 L392.98 411.50 L393.37 411.50 L393.77 411.50 L394.16 411.50 L394.55 411.50 L394.95 411.50 L395.34 411.50 L395.73 411.50 L396.13 411.50 L396.52 411.50 L396.91 411.50 L397.31 411.50 L397.70 411.50 L398.09 411.50 L398.49 411.50 L398.88 411.50 L399.27 411.50 L399.67 411.50 L400.06 411.50 L400.45 411.50 L400.85 411.50 L401.24 411.50 L401.63 411.50 L402.03 411.50 L402.42 411.50 L402.81 411.50 L403.21 411.50 L403.60 411.50 L403.99 411.50 L404.39 411.50 L404.78 411.50 L405.17 411.50 L405.57 411.50 L405.96 411.50 L406.35 411.50 L406.75 411.50 L407.14 411.50 L407.53 411.50 L407.93 411.50 L408.32 411.50 L408.71 411.50 L409.11 411.50 L409.50 411.50 L409.89 411.50 L410.29 411.50 L410.68 411.50 L411.07 411.50 L411.47 411.50 L411.86 411.50 L412.25 411.50 L412.65 411.50 L413.04 411.50 L413.43 411.50 L413.83 411.50 L414.22 411.50 L414.61 411.50 L415.01 411.50 L415.40 411.50 L415.79 411.50 L416.19 411.50 L416.58 411.50 L416.97 411.50 L417.37 411.50 L417.76 411.50 L418.15 411.50 L418.55 411.50 L418.94 411.50 L419.33 411.50 L419.73 411.50 L420.12 411.50 L420.51 411.50 L420.91 411.50 L421.30 411.50 L421.69 411.50 L422.09 411.50 L422.48 411.50 L422.87 411.50 L423.27 411.50 L423.66 410.87 L424.05 407.82 L424.45 404.80 L424.84 401.81 L425.23 398.84 L425.63 395.90 L426.02 392.99 L426.41 390.10 L426.81 387.24 L427.20 384.41 L427.59 381.60 L427.99 378.82 L428.38 376.06 L428.77 373.34 L429.17 370.64 L429.56 367.96 L429.95 365.31 L430.35 362.69 L430.74 360.10 L431.13 357.53 L431.53 354.99 L431.92 352.47 L432.31 349.99 L432.71 347.52 L433.10 345.09 L433.49 342.68 L433.89 340.30 L434.28 337.94 L434.67 335.61 L435.07 333.31 L435.46 331.04 L435.85 328.79 L436.25 326.56 L436.64 324.37 L437.03 322.20 L437.43 320.06 L437.82 317.94 L438.21 315.85 L438.61 313.79 L439.00 311.75 L439.39 309.74 L439.79 307.76 L440.18 305.80 L440.57 303.87 L440.97 301.97 L441.36 300.09 L441.75 298.24 L442.15 296.41 L442.54 294.62 L442.93 292.84 L443.33 291.10 L443.72 289.38 L444.11 287.69 L444.51 286.03 L444.90 284.39 L445.29 282.78 L445.69 281.19 L446.08 279.63 L446.47 278.10 L446.87 276.60 L447.26 275.12 L447.65 273.67 L448.05 272.24 L448.44 270.84 L448.83 269.47 L449.23 268.12 L449.62 266.80 L450.01 265.51 L450.41 264.25 L450.80 263.01 L451.19 261.79 L451.59 260.61 L451.98 259.45 L452.37 258.31 L452.77 257.21 L453.16 256.13 L453.55 255.07 L453.95 254.05 L454.34 253.05 L454.73 252.07 L455.13 251.13 L455.52 250.20 L455.91 249.31 L456.31 248.44 L456.70 247.60 L457.09 246.79 L457.49 246.00 L457.88 245.24 L458.27 244.50 L458.67 243.80 L459.06 243.11 L459.45 242.46 L459.85 241.83 L460.24 241.23 L460.63 240.65 L461.03 240.11 L461.42 239.58 L461.81 239.09 L462.21 238.62 L462.60 238.18 L462.99 237.76 L463.39 237.37 L463.78 237.01 L464.17 236.67 L464.57 236.36 L464.96 236.08 L465.35 235.82 L465.75 235.59 L466.14 235.39 L466.53 235.21 L466.93 235.06 L467.32 234.94 L467.71 234.84 L468.11 234.77 L468.50 234.73 L468.89 234.71 L469.29 234.72 L469.68 234.76 L470.07 234.82 L470.47 234.91 L470.86 235.02 L471.25 235.17 L471.65 235.33 L472.04 235.53 L472.43 235.75 L472.83 236.00 L473.22 236.28 L473.61 236.58 L474.01 236.90 L474.40 237.26 L474.79 237.64 L475.19 238.05 L475.58 238.48 L475.97 238.94 L476.37 239.43 L476.76 239.95 L477.15 240.49 L477.55 241.05 L477.94 241.65 L478.33 242.27 L478.73 242.92 L479.12 243.59 L479.51 244.29 L479.91 245.02 L480.30 245.77 L480.69 246.55 L481.09 247.35 L481.48 248.19 L481.87 249.05 L482.27 249.93 L482.66 250.85 L483.05 251.79 L483.45 252.75 L483.84 253.74 L484.23 254.76 L484.63 255.81 L485.02 256.88 L485.41 257.98 L485.81 259.10 L486.20 260.26 L486.59 261.43 L486.99 262.64 L487.38 263.87 L487.77 265.13 L488.17 266.41 L488.56 267.73 L488.95 269.06 L489.35 270.43 L489.74 271.82 L490.13 273.24 L490.53 274.68 L490.92 276.15 L491.31 277.65 L491.71 279.17 L492.10 280.72 L492.49 282.30 L492.89 283.90 L493.28 285.53 L493.67 287.19 L494.07 288.87 L494.46 290.58 L494.85 292.32 L495.25 294.08 L495.64 295.87 L496.03 297.69 L496.43 299.53 L496.82 301.40 L497.21 303.29 L497.61 305.22 L498.00 307.17 L498.39 309.14 L498.79 311.14 L499.18 313.17 L499.57 315.23 L499.97 317.31 L500.36 319.42 L500.75 321.55 L501.15 323.71 L501.54 325.90 L501.93 328.12 L502.33 330.36 L502.72 332.63 L503.11 334.92 L503.51 337.24 L503.90 339.59 L504.29 341.96 L504.69 344.36 L505.08 346.79 L505.47 349.24 L505.87 351.72 L506.26 354.23 L506.65 356.77 L507.05 359.33 L507.44 361.91 L507.83 364.52 L508.23 367.16 L508.62 369.83 L509.01 372.52 L509.41 375.24 L509.80 377.99 L510.19 380.76 L510.59 383.56 L510.98 386.39 L511.37 389.24 L511.77 392.12 L512.16 395.02 L512.55 397.96 L512.95 400.91 L513.34 403.90 L513.73 406.91 L514.13 409.95 L514.52 411.50 L514.91 411.50 L515.31 411.50 L515.70 411.50 L516.09 411.50 L516.49 411.50 L516.88 411.50 L517.27 411.50 L517.67 411.50 L518.06 411.50 L518.45 411.50 L518.85 411.50 L519.24 411.50 L519.63 411.50 L520.03 411.50 L520.42 411.50 L520.81 411.50 L521.21 411.50 L521.60 411.50 L521.99 411.50 L522.39 411.50 L522.78 411.50 L523.17 411.50 L523.57 411.50 L523.96 411.50 L524.35 411.50 L524.75 411.50 L525.14 411.50 L525.53 411.50 L525.93 411.50 L526.32 411.50 L526.71 411.50 L527.11 411.50 L527.50 411.50 L527.89 411.50 L528.29 411.50 L528.68 411.50 L529.07 411.50 L529.47 411.50 L529.86 411.50 L530.25 411.50 L530.65 411.50 L531.04 411.50 L531.43 411.50 L531.83 411.50 L532.22 411.50 L532.61 411.50 L533.01 411.50 L533.40 411.50 L533.79 411.50 L534.19 411.50 L534.58 411.50 L534.97 411.50 L535.37 411.50 L535.76 411.50 L536.15 411.50 L536.55 411.50 L536.94 411.50 L537.33 411.50 L537.73 411.50 L538.12 411.50 L538.51 411.50 L538.91 411.50 L539.30 411.50 L539.69 411.50 L540.09 411.50 L540.48 411.50 L540.87 411.50 L541.27 411.50 L541.66 411.50 L542.05 411.50 L542.45 411.50 L542.84 411.50 L543.23 411.50 L543.63 411.50 L544.02 411.50 L544.41 411.50 L544.81 411.50 L545.20 411.50 L545.59 411.50 L545.99 411.50 L546.38 411.50 L546.77 411.50 L547.17 411.50 L547.56 411.50 L547.95 411.50 L548.35 411.50 L548.74 411.50 L549.13 411.50 L549.53 411.50 L549.92 411.50 L550.31 411.50 L550.71 411.50 L551.10 411.50 L551.49 411.50 L551.89 411.50 L552.28 411.50 L552.67 411.50 L553.07 411.50 L553.46 411.50 L553.85 411.50 L554.25 411.50 L554.64 411.50 L555.03 411.50 L555.43 411.50 L555.82 411.50 L556.21 411.50 L556.61 411.50 L557.00 411.50 L557.39 411.50 L557.79 411.50 L558.18 411.50 L558.57 411.50 L558.97 411.50 L559.36 411.50 L559.75 411.50 L560.15 411.50 L560.54 411.50 L560.93 411.50 L561.33 411.50 L561.72 411.50 L562.11 411.50 L562.51 411.50 L562.90 411.50 L563.29 411.50 L563.69 411.50 L564.08 411.50 L564.47 411.50 L564.87 411.50 L565.26 411.50 L565.65 411.50 L566.05 411.50 L566.44 411.50 L566.83 411.50 L567.23 411.50 L567.62 411.50 L568.01 411.50 L568.41 411.50 L568.80 411.50 L569.19 411.50 L569.59 411.50 L569.98 411.50 L570.37 411.50 L570.77 411.50 L571.16 411.50 L571.55 411.50 L571.95 411.50 L572.34 411.50 L572.73 411.50 L573.13 411.50 L573.52 411.50 L573.91 411.50 L574.31 411.50 L574.70 411.50 L575.09 411.50 L575.49 411.50 L575.88 411.50 L576.27 411.50 L576.67 411.50 L577.06 411.50 L577.45 411.50 L577.85 411.50 L578.24 411.50 L578.63 411.50 L579.03 411.50 L579.42 411.50 L579.81 411.50 L580.21 411.50 L580.60 411.50 L580.99 411.50 L581.39 411.50 L581.78 411.50 L582.17 411.50 L582.57 411.50 L582.96 411.50 L583.35 411.50 L583.75 411.50 L584.14 411.50 L584.53 411.50 L584.93 411.50 L585.32 411.50 L585.71 411.50 L586.11 411.50 L586.50 411.50" stroke="#5858a8"/>
</g>
</g>
<text class="tt" x="163.30" y="8.50" text-anchor="middle">(a)</text>
<text class="tl" x="45.50" y="197.30" text-anchor="middle">−6<tspan class="bu" dx="0.8">•</tspan>10<tspan class="sup" dy="-5.3">4</tspan></text>
<text class="tl" x="84.83" y="197.30" text-anchor="middle">−4<tspan class="bu" dx="0.8">•</tspan>10<tspan class="sup" dy="-5.3">4</tspan></text>
<text class="tl" x="124.17" y="197.30" text-anchor="middle">−2<tspan class="bu" dx="0.8">•</tspan>10<tspan class="sup" dy="-5.3">4</tspan></text>
<text class="tl" x="163.50" y="197.30" text-anchor="middle">0</text>
<text class="tl" x="202.83" y="197.30" text-anchor="middle">2<tspan class="bu" dx="0.8">•</tspan>10<tspan class="sup" dy="-5.3">4</tspan></text>
<text class="tl" x="242.17" y="197.30" text-anchor="middle">4<tspan class="bu" dx="0.8">•</tspan>10<tspan class="sup" dy="-5.3">4</tspan></text>
<text class="tl" x="281.50" y="197.30" text-anchor="middle">6<tspan class="bu" dx="0.8">•</tspan>10<tspan class="sup" dy="-5.3">4</tspan></text>
<text class="xt" x="163.50" y="209.00" text-anchor="middle">I [LU]</text>
<text class="tl" x="42.80" y="159.68" text-anchor="end">1<tspan class="bu" dx="0.8">•</tspan>10<tspan class="sup" dy="-5.3">4</tspan></text>
<text class="tl" x="42.80" y="132.26" text-anchor="end">2<tspan class="bu" dx="0.8">•</tspan>10<tspan class="sup" dy="-5.3">4</tspan></text>
<text class="tl" x="42.80" y="104.84" text-anchor="end">3<tspan class="bu" dx="0.8">•</tspan>10<tspan class="sup" dy="-5.3">4</tspan></text>
<text class="tl" x="42.80" y="77.42" text-anchor="end">4<tspan class="bu" dx="0.8">•</tspan>10<tspan class="sup" dy="-5.3">4</tspan></text>
<text class="tl" x="42.80" y="50.00" text-anchor="end">5<tspan class="bu" dx="0.8">•</tspan>10<tspan class="sup" dy="-5.3">4</tspan></text>
<text class="tl" x="42.80" y="22.58" text-anchor="end">6<tspan class="bu" dx="0.8">•</tspan>10<tspan class="sup" dy="-5.3">4</tspan></text>
<text class="yt" transform="translate(8.50 99.70) rotate(-90)" text-anchor="middle">#Voxels</text>
<text class="tt" x="467.30" y="8.00" text-anchor="middle">(b)</text>
<text class="tl" x="350.50" y="197.30" text-anchor="middle">−6<tspan class="bu" dx="0.8">•</tspan>10<tspan class="sup" dy="-5.3">4</tspan></text>
<text class="tl" x="389.83" y="197.30" text-anchor="middle">−4<tspan class="bu" dx="0.8">•</tspan>10<tspan class="sup" dy="-5.3">4</tspan></text>
<text class="tl" x="429.17" y="197.30" text-anchor="middle">−2<tspan class="bu" dx="0.8">•</tspan>10<tspan class="sup" dy="-5.3">4</tspan></text>
<text class="tl" x="468.50" y="197.30" text-anchor="middle">0</text>
<text class="tl" x="507.83" y="197.30" text-anchor="middle">2<tspan class="bu" dx="0.8">•</tspan>10<tspan class="sup" dy="-5.3">4</tspan></text>
<text class="tl" x="547.17" y="197.30" text-anchor="middle">4<tspan class="bu" dx="0.8">•</tspan>10<tspan class="sup" dy="-5.3">4</tspan></text>
<text class="tl" x="586.50" y="197.30" text-anchor="middle">6<tspan class="bu" dx="0.8">•</tspan>10<tspan class="sup" dy="-5.3">4</tspan></text>
<text class="xt" x="468.50" y="209.00" text-anchor="middle">I [LU]</text>
<text class="tl" x="347.80" y="180.40" text-anchor="end">1</text>
<text class="tl" x="347.80" y="146.90" text-anchor="end">10</text>
<text class="tl" x="347.80" y="113.40" text-anchor="end">100</text>
<text class="tl" x="347.80" y="79.90" text-anchor="end">1000</text>
<text class="tl" x="347.80" y="46.40" text-anchor="end">10000</text>
<text class="yt" transform="translate(307.70 99.70) rotate(-90)" text-anchor="middle">#Voxels</text>
<text class="tt" x="165.80" y="227.80" text-anchor="middle">(c)</text>
<text class="tl" x="45.50" y="416.30" text-anchor="middle">−6<tspan class="bu" dx="0.8">•</tspan>10<tspan class="sup" dy="-5.3">4</tspan></text>
<text class="tl" x="84.83" y="416.30" text-anchor="middle">−4<tspan class="bu" dx="0.8">•</tspan>10<tspan class="sup" dy="-5.3">4</tspan></text>
<text class="tl" x="124.17" y="416.30" text-anchor="middle">−2<tspan class="bu" dx="0.8">•</tspan>10<tspan class="sup" dy="-5.3">4</tspan></text>
<text class="tl" x="163.50" y="416.30" text-anchor="middle">0</text>
<text class="tl" x="202.83" y="416.30" text-anchor="middle">2<tspan class="bu" dx="0.8">•</tspan>10<tspan class="sup" dy="-5.3">4</tspan></text>
<text class="tl" x="242.17" y="416.30" text-anchor="middle">4<tspan class="bu" dx="0.8">•</tspan>10<tspan class="sup" dy="-5.3">4</tspan></text>
<text class="tl" x="281.50" y="416.30" text-anchor="middle">6<tspan class="bu" dx="0.8">•</tspan>10<tspan class="sup" dy="-5.3">4</tspan></text>
<text class="xt" x="163.50" y="428.00" text-anchor="middle">I [LU]</text>
<text class="tl" x="42.80" y="378.68" text-anchor="end">1<tspan class="bu" dx="0.8">•</tspan>10<tspan class="sup" dy="-5.3">4</tspan></text>
<text class="tl" x="42.80" y="351.26" text-anchor="end">2<tspan class="bu" dx="0.8">•</tspan>10<tspan class="sup" dy="-5.3">4</tspan></text>
<text class="tl" x="42.80" y="323.84" text-anchor="end">3<tspan class="bu" dx="0.8">•</tspan>10<tspan class="sup" dy="-5.3">4</tspan></text>
<text class="tl" x="42.80" y="296.42" text-anchor="end">4<tspan class="bu" dx="0.8">•</tspan>10<tspan class="sup" dy="-5.3">4</tspan></text>
<text class="tl" x="42.80" y="269.00" text-anchor="end">5<tspan class="bu" dx="0.8">•</tspan>10<tspan class="sup" dy="-5.3">4</tspan></text>
<text class="tl" x="42.80" y="241.58" text-anchor="end">6<tspan class="bu" dx="0.8">•</tspan>10<tspan class="sup" dy="-5.3">4</tspan></text>
<text class="yt" transform="translate(8.50 318.70) rotate(-90)" text-anchor="middle">#Voxels</text>
<text class="tt" x="474.70" y="229.00" text-anchor="middle">(d)</text>
<text class="tl" x="350.50" y="416.30" text-anchor="middle">−6<tspan class="bu" dx="0.8">•</tspan>10<tspan class="sup" dy="-5.3">4</tspan></text>
<text class="tl" x="389.83" y="416.30" text-anchor="middle">−4<tspan class="bu" dx="0.8">•</tspan>10<tspan class="sup" dy="-5.3">4</tspan></text>
<text class="tl" x="429.17" y="416.30" text-anchor="middle">−2<tspan class="bu" dx="0.8">•</tspan>10<tspan class="sup" dy="-5.3">4</tspan></text>
<text class="tl" x="468.50" y="416.30" text-anchor="middle">0</text>
<text class="tl" x="507.83" y="416.30" text-anchor="middle">2<tspan class="bu" dx="0.8">•</tspan>10<tspan class="sup" dy="-5.3">4</tspan></text>
<text class="tl" x="547.17" y="416.30" text-anchor="middle">4<tspan class="bu" dx="0.8">•</tspan>10<tspan class="sup" dy="-5.3">4</tspan></text>
<text class="tl" x="586.50" y="416.30" text-anchor="middle">6<tspan class="bu" dx="0.8">•</tspan>10<tspan class="sup" dy="-5.3">4</tspan></text>
<text class="xt" x="468.50" y="428.00" text-anchor="middle">I [LU]</text>
<text class="tl" x="347.80" y="399.40" text-anchor="end">1</text>
<text class="tl" x="347.80" y="365.90" text-anchor="end">10</text>
<text class="tl" x="347.80" y="332.40" text-anchor="end">100</text>
<text class="tl" x="347.80" y="298.90" text-anchor="end">1000</text>
<text class="tl" x="347.80" y="265.40" text-anchor="end">10000</text>
<text class="yt" transform="translate(307.70 318.70) rotate(-90)" text-anchor="middle">#Voxels</text>
</svg>
</body></html>
